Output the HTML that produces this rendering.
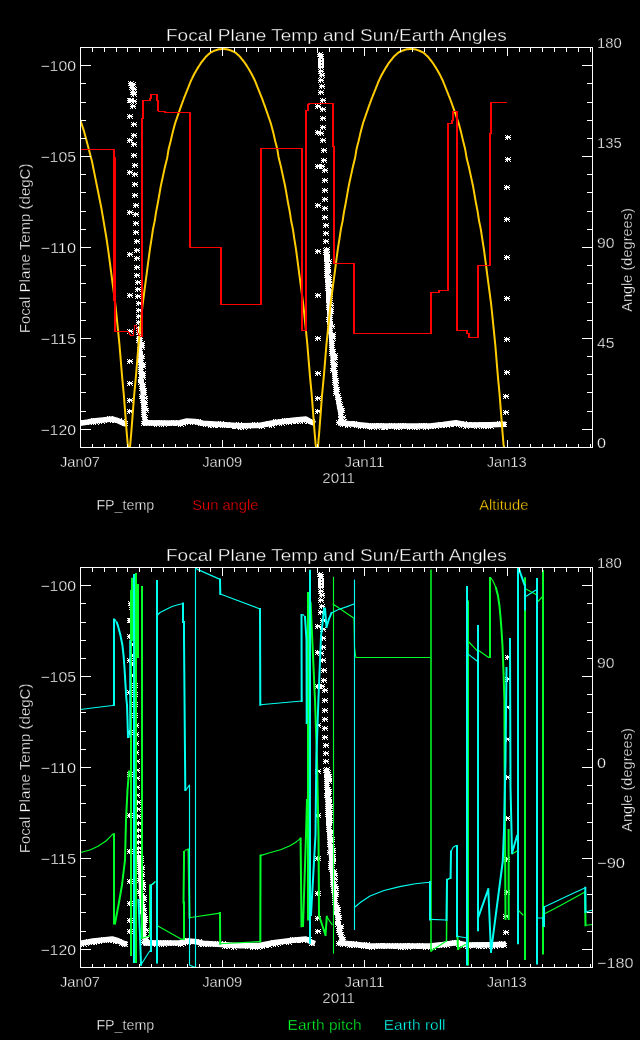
<!DOCTYPE html>
<html><head><meta charset="utf-8"><title>Focal Plane Temp and Sun/Earth Angles</title>
<style>html,body{margin:0;padding:0;background:#000;}svg{display:block;}</style></head>
<body><svg width="640" height="1040" viewBox="0 0 640 1040" font-family="'Liberation Sans', 'DejaVu Sans', sans-serif"><style>text{stroke:#000;stroke-width:0.35px}</style><defs><clipPath id="clipTop"><rect x="80" y="47" width="513" height="401"/></clipPath><clipPath id="clipBot"><rect x="80" y="567" width="513" height="401"/></clipPath></defs>
<text x="76.00" y="71.18" font-size="14.5" fill="#fff" text-anchor="end" textLength="35.6" lengthAdjust="spacingAndGlyphs" >−100</text>
<text x="76.00" y="162.09" font-size="14.5" fill="#fff" text-anchor="end" textLength="35.6" lengthAdjust="spacingAndGlyphs" >−105</text>
<text x="76.00" y="253.00" font-size="14.5" fill="#fff" text-anchor="end" textLength="35.6" lengthAdjust="spacingAndGlyphs" >−110</text>
<text x="76.00" y="343.91" font-size="14.5" fill="#fff" text-anchor="end" textLength="35.6" lengthAdjust="spacingAndGlyphs" >−115</text>
<text x="76.00" y="434.82" font-size="14.5" fill="#fff" text-anchor="end" textLength="35.6" lengthAdjust="spacingAndGlyphs" >−120</text>
<text x="80.00" y="467.00" font-size="14.5" fill="#fff" text-anchor="middle" textLength="40.0" lengthAdjust="spacingAndGlyphs" >Jan07</text>
<text x="222.22" y="467.00" font-size="14.5" fill="#fff" text-anchor="middle" textLength="40.0" lengthAdjust="spacingAndGlyphs" >Jan09</text>
<text x="364.44" y="467.00" font-size="14.5" fill="#fff" text-anchor="middle" textLength="40.0" lengthAdjust="spacingAndGlyphs" >Jan11</text>
<text x="506.67" y="467.00" font-size="14.5" fill="#fff" text-anchor="middle" textLength="40.0" lengthAdjust="spacingAndGlyphs" >Jan13</text>
<text x="338.60" y="483.00" font-size="14.5" fill="#fff" text-anchor="middle" textLength="32.6" lengthAdjust="spacingAndGlyphs" >2011</text>
<text x="597.00" y="48.00" font-size="14.5" fill="#fff" text-anchor="start" textLength="24.7" lengthAdjust="spacingAndGlyphs" >180</text>
<text x="597.00" y="148.00" font-size="14.5" fill="#fff" text-anchor="start" textLength="24.7" lengthAdjust="spacingAndGlyphs" >135</text>
<text x="597.00" y="248.00" font-size="14.5" fill="#fff" text-anchor="start" textLength="17.5" lengthAdjust="spacingAndGlyphs" >90</text>
<text x="597.00" y="348.00" font-size="14.5" fill="#fff" text-anchor="start" textLength="17.5" lengthAdjust="spacingAndGlyphs" >45</text>
<text x="597.00" y="448.00" font-size="14.5" fill="#fff" text-anchor="start" textLength="9.0" lengthAdjust="spacingAndGlyphs" >0</text>
<text x="166.00" y="41.00" font-size="17" fill="#fff" text-anchor="start" textLength="340.8" lengthAdjust="spacingAndGlyphs" >Focal Plane Temp and Sun/Earth Angles</text>
<text transform="translate(29.6,333.2) rotate(-90)" font-size="14.5" fill="#fff" textLength="169.6" lengthAdjust="spacingAndGlyphs">Focal Plane Temp (degC)</text>
<text transform="translate(632,311.8) rotate(-90)" font-size="14.5" fill="#fff" textLength="103.6" lengthAdjust="spacingAndGlyphs">Angle (degrees)</text>
<g clip-path="url(#clipTop)">
<path d="M80.0 423.2L88.0 422.0L93.0 421.0L103.0 420.0L112.0 419.0L118.0 420.7L124.0 423.5L127.0 424.0M143.0 423.0L146.0 422.7L163.0 423.0L180.0 422.7L187.0 421.0L195.0 421.5L203.0 423.3L240.0 425.8L259.0 425.5L275.0 422.5L295.0 420.0L306.0 419.0L311.0 422.0L315.0 423.5M338.0 423.0L342.0 423.0L369.0 425.7L400.0 426.0L430.0 426.0L443.0 424.5L456.0 422.7L467.0 424.9L490.0 424.7L506.0 424.3" stroke="#fff" stroke-width="5.5" fill="none" stroke-linejoin="round"/>
<path d="M138.6 336.0L139.8 345.0L140.5 360.0L141.0 375.0L142.0 388.0L143.0 400.0L143.8 412.0L144.3 419.0L146.5 423.0M326.4 250.0L327.0 269.0L328.0 292.0L329.2 315.0L331.0 338.5L332.7 361.5L335.5 384.6L339.0 407.7L341.4 419.0L344.0 423.0" stroke="#fff" stroke-width="4" fill="none" stroke-linejoin="round"/>
<path d="M127 98.5h1m4 0h1m-5 1h4m-5 1h6m-5 1h2m1 0h1m-5 1h1m4 0h1M129.5 98v5M127 114.5h1m4 0h1m-5 1h4m-5 1h6m-5 1h2m1 0h1m-5 1h1m4 0h1M129.5 114v5M127 138.5h1m4 0h1m-5 1h4m-5 1h6m-5 1h2m1 0h1m-5 1h1m4 0h1M129.5 138v5M127 170.5h1m4 0h1m-5 1h4m-5 1h6m-5 1h2m1 0h1m-5 1h1m4 0h1M129.5 170v5M127 210.5h1m4 0h1m-5 1h4m-5 1h6m-5 1h2m1 0h1m-5 1h1m4 0h1M129.5 210v5M127 252.5h1m4 0h1m-5 1h4m-5 1h6m-5 1h2m1 0h1m-5 1h1m4 0h1M129.5 252v5M127 293.5h1m4 0h1m-5 1h4m-5 1h6m-5 1h2m1 0h1m-5 1h1m4 0h1M129.5 293v5M127 329.5h1m4 0h1m-5 1h4m-5 1h6m-5 1h2m1 0h1m-5 1h1m4 0h1M129.5 329v5M127 359.5h1m4 0h1m-5 1h4m-5 1h6m-5 1h2m1 0h1m-5 1h1m4 0h1M129.5 359v5M127 381.5h1m4 0h1m-5 1h4m-5 1h6m-5 1h2m1 0h1m-5 1h1m4 0h1M129.5 381v5M127 398.5h1m4 0h1m-5 1h4m-5 1h6m-5 1h2m1 0h1m-5 1h1m4 0h1M129.5 398v5M127 409.5h1m4 0h1m-5 1h4m-5 1h6m-5 1h2m1 0h1m-5 1h1m4 0h1M129.5 409v5M315 104.5h1m4 0h1m-5 1h4m-5 1h6m-5 1h2m1 0h1m-5 1h1m4 0h1M317.5 104v5M315 130.5h1m4 0h1m-5 1h4m-5 1h6m-5 1h2m1 0h1m-5 1h1m4 0h1M317.5 130v5M315 164.5h1m4 0h1m-5 1h4m-5 1h6m-5 1h2m1 0h1m-5 1h1m4 0h1M317.5 164v5M315 203.5h1m4 0h1m-5 1h4m-5 1h6m-5 1h2m1 0h1m-5 1h1m4 0h1M317.5 203v5M315 249.5h1m4 0h1m-5 1h4m-5 1h6m-5 1h2m1 0h1m-5 1h1m4 0h1M317.5 249v5M315 293.5h1m4 0h1m-5 1h4m-5 1h6m-5 1h2m1 0h1m-5 1h1m4 0h1M317.5 293v5M315 336.5h1m4 0h1m-5 1h4m-5 1h6m-5 1h2m1 0h1m-5 1h1m4 0h1M317.5 336v5M315 371.5h1m4 0h1m-5 1h4m-5 1h6m-5 1h2m1 0h1m-5 1h1m4 0h1M317.5 371v5M315 396.5h1m4 0h1m-5 1h4m-5 1h6m-5 1h2m1 0h1m-5 1h1m4 0h1M317.5 396v5M315 409.5h1m4 0h1m-5 1h4m-5 1h6m-5 1h2m1 0h1m-5 1h1m4 0h1M317.5 409v5M505 135.5h1m4 0h1m-5 1h4m-5 1h6m-5 1h2m1 0h1m-5 1h1m4 0h1M507.5 135v5M505 157.5h1m4 0h1m-5 1h4m-5 1h6m-5 1h2m1 0h1m-5 1h1m4 0h1M507.5 157v5M504 185.5h1m4 0h1m-5 1h4m-5 1h6m-5 1h2m1 0h1m-5 1h1m4 0h1M506.5 185v5M504 217.5h1m4 0h1m-5 1h4m-5 1h6m-5 1h2m1 0h1m-5 1h1m4 0h1M506.5 217v5M504 255.5h1m4 0h1m-5 1h4m-5 1h6m-5 1h2m1 0h1m-5 1h1m4 0h1M506.5 255v5M504 296.5h1m4 0h1m-5 1h4m-5 1h6m-5 1h2m1 0h1m-5 1h1m4 0h1M506.5 296v5M504 337.5h1m4 0h1m-5 1h4m-5 1h6m-5 1h2m1 0h1m-5 1h1m4 0h1M506.5 337v5M504 370.5h1m4 0h1m-5 1h4m-5 1h6m-5 1h2m1 0h1m-5 1h1m4 0h1M506.5 370v5M503 394.5h1m4 0h1m-5 1h4m-5 1h6m-5 1h2m1 0h1m-5 1h1m4 0h1M505.5 394v5M503 410.5h1m4 0h1m-5 1h4m-5 1h6m-5 1h2m1 0h1m-5 1h1m4 0h1M505.5 410v5M128 81.5h1m4 0h1m-5 1h4m-5 1h6m-5 1h2m1 0h1m-5 1h1m4 0h1M130.5 81v5M130 82.5h1m4 0h1m-5 1h4m-5 1h6m-5 1h2m1 0h1m-5 1h1m4 0h1M132.5 82v5M129 85.5h1m4 0h1m-5 1h4m-5 1h6m-5 1h2m1 0h1m-5 1h1m4 0h1M131.5 85v5M131 87.5h1m4 0h1m-5 1h4m-5 1h6m-5 1h2m1 0h1m-5 1h1m4 0h1M133.5 87v5M130 90.5h1m4 0h1m-5 1h4m-5 1h6m-5 1h2m1 0h1m-5 1h1m4 0h1M132.5 90v5M131 92.5h1m4 0h1m-5 1h4m-5 1h6m-5 1h2m1 0h1m-5 1h1m4 0h1M133.5 92v5M128 98.5h1m4 0h1m-5 1h4m-5 1h6m-5 1h2m1 0h1m-5 1h1m4 0h1M130.5 98v5M131 99.5h1m4 0h1m-5 1h4m-5 1h6m-5 1h2m1 0h1m-5 1h1m4 0h1M133.5 99v5M130 104.5h1m4 0h1m-5 1h4m-5 1h6m-5 1h2m1 0h1m-5 1h1m4 0h1M132.5 104v5M131 122.5h1m4 0h1m-5 1h4m-5 1h6m-5 1h2m1 0h1m-5 1h1m4 0h1M133.5 122v5M131 133.5h1m4 0h1m-5 1h4m-5 1h6m-5 1h2m1 0h1m-5 1h1m4 0h1M133.5 133v5M131 142.5h1m4 0h1m-5 1h4m-5 1h6m-5 1h2m1 0h1m-5 1h1m4 0h1M133.5 142v5M131 153.5h1m4 0h1m-5 1h4m-5 1h6m-5 1h2m1 0h1m-5 1h1m4 0h1M133.5 153v5M132 163.5h1m4 0h1m-5 1h4m-5 1h6m-5 1h2m1 0h1m-5 1h1m4 0h1M134.5 163v5M317 52.5h1m4 0h1m-5 1h4m-5 1h6m-5 1h2m1 0h1m-5 1h1m4 0h1M319.5 52v5M318 54.5h1m4 0h1m-5 1h4m-5 1h6m-5 1h2m1 0h1m-5 1h1m4 0h1M320.5 54v5M318 56.5h1m4 0h1m-5 1h4m-5 1h6m-5 1h2m1 0h1m-5 1h1m4 0h1M320.5 56v5M318 59.5h1m4 0h1m-5 1h4m-5 1h6m-5 1h2m1 0h1m-5 1h1m4 0h1M320.5 59v5M318 62.5h1m4 0h1m-5 1h4m-5 1h6m-5 1h2m1 0h1m-5 1h1m4 0h1M320.5 62v5M318 65.5h1m4 0h1m-5 1h4m-5 1h6m-5 1h2m1 0h1m-5 1h1m4 0h1M320.5 65v5M318 69.5h1m4 0h1m-5 1h4m-5 1h6m-5 1h2m1 0h1m-5 1h1m4 0h1M320.5 69v5M319 73.5h1m4 0h1m-5 1h4m-5 1h6m-5 1h2m1 0h1m-5 1h1m4 0h1M321.5 73v5M318 78.5h1m4 0h1m-5 1h4m-5 1h6m-5 1h2m1 0h1m-5 1h1m4 0h1M320.5 78v5M319 84.5h1m4 0h1m-5 1h4m-5 1h6m-5 1h2m1 0h1m-5 1h1m4 0h1M321.5 84v5M318 90.5h1m4 0h1m-5 1h4m-5 1h6m-5 1h2m1 0h1m-5 1h1m4 0h1M320.5 90v5M320 98.5h1m4 0h1m-5 1h4m-5 1h6m-5 1h2m1 0h1m-5 1h1m4 0h1M322.5 98v5M320 107.5h1m4 0h1m-5 1h4m-5 1h6m-5 1h2m1 0h1m-5 1h1m4 0h1M322.5 107v5M320 116.5h1m4 0h1m-5 1h4m-5 1h6m-5 1h2m1 0h1m-5 1h1m4 0h1M322.5 116v5M320 125.5h1m4 0h1m-5 1h4m-5 1h6m-5 1h2m1 0h1m-5 1h1m4 0h1M322.5 125v5M318 131.5h1m4 0h1m-5 1h4m-5 1h6m-5 1h2m1 0h1m-5 1h1m4 0h1M320.5 131v5M320 138.5h1m4 0h1m-5 1h4m-5 1h6m-5 1h2m1 0h1m-5 1h1m4 0h1M322.5 138v5M321 148.5h1m4 0h1m-5 1h4m-5 1h6m-5 1h2m1 0h1m-5 1h1m4 0h1M323.5 148v5M321 158.5h1m4 0h1m-5 1h4m-5 1h6m-5 1h2m1 0h1m-5 1h1m4 0h1M323.5 158v5M319 164.5h1m4 0h1m-5 1h4m-5 1h6m-5 1h2m1 0h1m-5 1h1m4 0h1M321.5 164v5M322 168.5h1m4 0h1m-5 1h4m-5 1h6m-5 1h2m1 0h1m-5 1h1m4 0h1M324.5 168v5M322 178.5h1m4 0h1m-5 1h4m-5 1h6m-5 1h2m1 0h1m-5 1h1m4 0h1M324.5 178v5M132 172.5h1m4 0h1m-5 1h4m-5 1h6m-5 1h2m1 0h1m-5 1h1m4 0h1M134.5 172v5M132 182.5h1m4 0h1m-5 1h4m-5 1h6m-5 1h2m1 0h1m-5 1h1m4 0h1M134.5 182v5M132 193.5h1m4 0h1m-5 1h4m-5 1h6m-5 1h2m1 0h1m-5 1h1m4 0h1M134.5 193v5M133 203.5h1m4 0h1m-5 1h4m-5 1h6m-5 1h2m1 0h1m-5 1h1m4 0h1M135.5 203v5M133 212.5h1m4 0h1m-5 1h4m-5 1h6m-5 1h2m1 0h1m-5 1h1m4 0h1M135.5 212v5M133 221.5h1m4 0h1m-5 1h4m-5 1h6m-5 1h2m1 0h1m-5 1h1m4 0h1M135.5 221v5M133 230.5h1m4 0h1m-5 1h4m-5 1h6m-5 1h2m1 0h1m-5 1h1m4 0h1M135.5 230v5M134 239.5h1m4 0h1m-5 1h4m-5 1h6m-5 1h2m1 0h1m-5 1h1m4 0h1M136.5 239v5M134 248.5h1m4 0h1m-5 1h4m-5 1h6m-5 1h2m1 0h1m-5 1h1m4 0h1M136.5 248v5M134 256.5h1m4 0h1m-5 1h4m-5 1h6m-5 1h2m1 0h1m-5 1h1m4 0h1M136.5 256v5M134 265.5h1m4 0h1m-5 1h4m-5 1h6m-5 1h2m1 0h1m-5 1h1m4 0h1M136.5 265v5M134 273.5h1m4 0h1m-5 1h4m-5 1h6m-5 1h2m1 0h1m-5 1h1m4 0h1M136.5 273v5M135 280.5h1m4 0h1m-5 1h4m-5 1h6m-5 1h2m1 0h1m-5 1h1m4 0h1M137.5 280v5M135 287.5h1m4 0h1m-5 1h4m-5 1h6m-5 1h2m1 0h1m-5 1h1m4 0h1M137.5 287v5M135 294.5h1m4 0h1m-5 1h4m-5 1h6m-5 1h2m1 0h1m-5 1h1m4 0h1M137.5 294v5M136 301.5h1m4 0h1m-5 1h4m-5 1h6m-5 1h2m1 0h1m-5 1h1m4 0h1M138.5 301v5M136 308.5h1m4 0h1m-5 1h4m-5 1h6m-5 1h2m1 0h1m-5 1h1m4 0h1M138.5 308v5M136 314.5h1m4 0h1m-5 1h4m-5 1h6m-5 1h2m1 0h1m-5 1h1m4 0h1M138.5 314v5M136 320.5h1m4 0h1m-5 1h4m-5 1h6m-5 1h2m1 0h1m-5 1h1m4 0h1M138.5 320v5M136 326.5h1m4 0h1m-5 1h4m-5 1h6m-5 1h2m1 0h1m-5 1h1m4 0h1M138.5 326v5M136 330.5h1m4 0h1m-5 1h4m-5 1h6m-5 1h2m1 0h1m-5 1h1m4 0h1M138.5 330v5M322 188.5h1m4 0h1m-5 1h4m-5 1h6m-5 1h2m1 0h1m-5 1h1m4 0h1M324.5 188v5M322 197.5h1m4 0h1m-5 1h4m-5 1h6m-5 1h2m1 0h1m-5 1h1m4 0h1M324.5 197v5M322 206.5h1m4 0h1m-5 1h4m-5 1h6m-5 1h2m1 0h1m-5 1h1m4 0h1M324.5 206v5M322 215.5h1m4 0h1m-5 1h4m-5 1h6m-5 1h2m1 0h1m-5 1h1m4 0h1M324.5 215v5M323 223.5h1m4 0h1m-5 1h4m-5 1h6m-5 1h2m1 0h1m-5 1h1m4 0h1M325.5 223v5M323 231.5h1m4 0h1m-5 1h4m-5 1h6m-5 1h2m1 0h1m-5 1h1m4 0h1M325.5 231v5M323 239.5h1m4 0h1m-5 1h4m-5 1h6m-5 1h2m1 0h1m-5 1h1m4 0h1M325.5 239v5M324 247.5h1m4 0h1m-5 1h4m-5 1h6m-5 1h2m1 0h1m-5 1h1m4 0h1M326.5 247v5M324 255.5h1m4 0h1m-5 1h4m-5 1h6m-5 1h2m1 0h1m-5 1h1m4 0h1M326.5 255v5M324 263.5h1m4 0h1m-5 1h4m-5 1h6m-5 1h2m1 0h1m-5 1h1m4 0h1M326.5 263v5M325 270.5h1m4 0h1m-5 1h4m-5 1h6m-5 1h2m1 0h1m-5 1h1m4 0h1M327.5 270v5M325 277.5h1m4 0h1m-5 1h4m-5 1h6m-5 1h2m1 0h1m-5 1h1m4 0h1M327.5 277v5M325 284.5h1m4 0h1m-5 1h4m-5 1h6m-5 1h2m1 0h1m-5 1h1m4 0h1M327.5 284v5M326 291.5h1m4 0h1m-5 1h4m-5 1h6m-5 1h2m1 0h1m-5 1h1m4 0h1M328.5 291v5M326 297.5h1m4 0h1m-5 1h4m-5 1h6m-5 1h2m1 0h1m-5 1h1m4 0h1M328.5 297v5M78 420.5h1m4 0h1m-5 1h4m-5 1h6m-5 1h2m1 0h1m-5 1h1m4 0h1M80.5 420v5M81 420.5h1m4 0h1m-5 1h4m-5 1h6m-5 1h2m1 0h1m-5 1h1m4 0h1M83.5 420v5M83 420.5h1m4 0h1m-5 1h4m-5 1h6m-5 1h2m1 0h1m-5 1h1m4 0h1M85.5 420v5M86 420.5h1m4 0h1m-5 1h4m-5 1h6m-5 1h2m1 0h1m-5 1h1m4 0h1M88.5 420v5M88 419.5h1m4 0h1m-5 1h4m-5 1h6m-5 1h2m1 0h1m-5 1h1m4 0h1M90.5 419v5M91 418.5h1m4 0h1m-5 1h4m-5 1h6m-5 1h2m1 0h1m-5 1h1m4 0h1M93.5 418v5M93 420.5h1m4 0h1m-5 1h4m-5 1h6m-5 1h2m1 0h1m-5 1h1m4 0h1M95.5 420v5M96 418.5h1m4 0h1m-5 1h4m-5 1h6m-5 1h2m1 0h1m-5 1h1m4 0h1M98.5 418v5M99 419.5h1m4 0h1m-5 1h4m-5 1h6m-5 1h2m1 0h1m-5 1h1m4 0h1M101.5 419v5M101 418.5h1m4 0h1m-5 1h4m-5 1h6m-5 1h2m1 0h1m-5 1h1m4 0h1M103.5 418v5M104 417.5h1m4 0h1m-5 1h4m-5 1h6m-5 1h2m1 0h1m-5 1h1m4 0h1M106.5 417v5M106 417.5h1m4 0h1m-5 1h4m-5 1h6m-5 1h2m1 0h1m-5 1h1m4 0h1M108.5 417v5M107 416.5h1m4 0h1m-5 1h4m-5 1h6m-5 1h2m1 0h1m-5 1h1m4 0h1M109.5 416v5M110 418.5h1m4 0h1m-5 1h4m-5 1h6m-5 1h2m1 0h1m-5 1h1m4 0h1M112.5 418v5M113 418.5h1m4 0h1m-5 1h4m-5 1h6m-5 1h2m1 0h1m-5 1h1m4 0h1M115.5 418v5M116 418.5h1m4 0h1m-5 1h4m-5 1h6m-5 1h2m1 0h1m-5 1h1m4 0h1M118.5 418v5M119 419.5h1m4 0h1m-5 1h4m-5 1h6m-5 1h2m1 0h1m-5 1h1m4 0h1M121.5 419v5M122 421.5h1m4 0h1m-5 1h4m-5 1h6m-5 1h2m1 0h1m-5 1h1m4 0h1M124.5 421v5M141 421.5h1m4 0h1m-5 1h4m-5 1h6m-5 1h2m1 0h1m-5 1h1m4 0h1M143.5 421v5M144 421.5h1m4 0h1m-5 1h4m-5 1h6m-5 1h2m1 0h1m-5 1h1m4 0h1M146.5 421v5M146 420.5h1m4 0h1m-5 1h4m-5 1h6m-5 1h2m1 0h1m-5 1h1m4 0h1M148.5 420v5M149 421.5h1m4 0h1m-5 1h4m-5 1h6m-5 1h2m1 0h1m-5 1h1m4 0h1M151.5 421v5M151 421.5h1m4 0h1m-5 1h4m-5 1h6m-5 1h2m1 0h1m-5 1h1m4 0h1M153.5 421v5M154 422.5h1m4 0h1m-5 1h4m-5 1h6m-5 1h2m1 0h1m-5 1h1m4 0h1M156.5 422v5M156 420.5h1m4 0h1m-5 1h4m-5 1h6m-5 1h2m1 0h1m-5 1h1m4 0h1M158.5 420v5M159 420.5h1m4 0h1m-5 1h4m-5 1h6m-5 1h2m1 0h1m-5 1h1m4 0h1M161.5 420v5M161 422.5h1m4 0h1m-5 1h4m-5 1h6m-5 1h2m1 0h1m-5 1h1m4 0h1M163.5 422v5M163 421.5h1m4 0h1m-5 1h4m-5 1h6m-5 1h2m1 0h1m-5 1h1m4 0h1M165.5 421v5M165 421.5h1m4 0h1m-5 1h4m-5 1h6m-5 1h2m1 0h1m-5 1h1m4 0h1M167.5 421v5M169 421.5h1m4 0h1m-5 1h4m-5 1h6m-5 1h2m1 0h1m-5 1h1m4 0h1M171.5 421v5M171 420.5h1m4 0h1m-5 1h4m-5 1h6m-5 1h2m1 0h1m-5 1h1m4 0h1M173.5 420v5M173 421.5h1m4 0h1m-5 1h4m-5 1h6m-5 1h2m1 0h1m-5 1h1m4 0h1M175.5 421v5M176 421.5h1m4 0h1m-5 1h4m-5 1h6m-5 1h2m1 0h1m-5 1h1m4 0h1M178.5 421v5M178 422.5h1m4 0h1m-5 1h4m-5 1h6m-5 1h2m1 0h1m-5 1h1m4 0h1M180.5 422v5M180 421.5h1m4 0h1m-5 1h4m-5 1h6m-5 1h2m1 0h1m-5 1h1m4 0h1M182.5 421v5M182 420.5h1m4 0h1m-5 1h4m-5 1h6m-5 1h2m1 0h1m-5 1h1m4 0h1M184.5 420v5M185 420.5h1m4 0h1m-5 1h4m-5 1h6m-5 1h2m1 0h1m-5 1h1m4 0h1M187.5 420v5M188 419.5h1m4 0h1m-5 1h4m-5 1h6m-5 1h2m1 0h1m-5 1h1m4 0h1M190.5 419v5M190 420.5h1m4 0h1m-5 1h4m-5 1h6m-5 1h2m1 0h1m-5 1h1m4 0h1M192.5 420v5M193 419.5h1m4 0h1m-5 1h4m-5 1h6m-5 1h2m1 0h1m-5 1h1m4 0h1M195.5 419v5M195 419.5h1m4 0h1m-5 1h4m-5 1h6m-5 1h2m1 0h1m-5 1h1m4 0h1M197.5 419v5M198 421.5h1m4 0h1m-5 1h4m-5 1h6m-5 1h2m1 0h1m-5 1h1m4 0h1M200.5 421v5M201 421.5h1m4 0h1m-5 1h4m-5 1h6m-5 1h2m1 0h1m-5 1h1m4 0h1M203.5 421v5M203 422.5h1m4 0h1m-5 1h4m-5 1h6m-5 1h2m1 0h1m-5 1h1m4 0h1M205.5 422v5M205 421.5h1m4 0h1m-5 1h4m-5 1h6m-5 1h2m1 0h1m-5 1h1m4 0h1M207.5 421v5M208 423.5h1m4 0h1m-5 1h4m-5 1h6m-5 1h2m1 0h1m-5 1h1m4 0h1M210.5 423v5M211 423.5h1m4 0h1m-5 1h4m-5 1h6m-5 1h2m1 0h1m-5 1h1m4 0h1M213.5 423v5M212 422.5h1m4 0h1m-5 1h4m-5 1h6m-5 1h2m1 0h1m-5 1h1m4 0h1M214.5 422v5M215 423.5h1m4 0h1m-5 1h4m-5 1h6m-5 1h2m1 0h1m-5 1h1m4 0h1M217.5 423v5M218 421.5h1m4 0h1m-5 1h4m-5 1h6m-5 1h2m1 0h1m-5 1h1m4 0h1M220.5 421v5M219 422.5h1m4 0h1m-5 1h4m-5 1h6m-5 1h2m1 0h1m-5 1h1m4 0h1M221.5 422v5M222 423.5h1m4 0h1m-5 1h4m-5 1h6m-5 1h2m1 0h1m-5 1h1m4 0h1M224.5 423v5M224 422.5h1m4 0h1m-5 1h4m-5 1h6m-5 1h2m1 0h1m-5 1h1m4 0h1M226.5 422v5M226 423.5h1m4 0h1m-5 1h4m-5 1h6m-5 1h2m1 0h1m-5 1h1m4 0h1M228.5 423v5M229 423.5h1m4 0h1m-5 1h4m-5 1h6m-5 1h2m1 0h1m-5 1h1m4 0h1M231.5 423v5M232 424.5h1m4 0h1m-5 1h4m-5 1h6m-5 1h2m1 0h1m-5 1h1m4 0h1M234.5 424v5M233 424.5h1m4 0h1m-5 1h4m-5 1h6m-5 1h2m1 0h1m-5 1h1m4 0h1M235.5 424v5M236 422.5h1m4 0h1m-5 1h4m-5 1h6m-5 1h2m1 0h1m-5 1h1m4 0h1M238.5 422v5M238 425.5h1m4 0h1m-5 1h4m-5 1h6m-5 1h2m1 0h1m-5 1h1m4 0h1M240.5 425v5M241 425.5h1m4 0h1m-5 1h4m-5 1h6m-5 1h2m1 0h1m-5 1h1m4 0h1M243.5 425v5M243 423.5h1m4 0h1m-5 1h4m-5 1h6m-5 1h2m1 0h1m-5 1h1m4 0h1M245.5 423v5M245 424.5h1m4 0h1m-5 1h4m-5 1h6m-5 1h2m1 0h1m-5 1h1m4 0h1M247.5 424v5M247 423.5h1m4 0h1m-5 1h4m-5 1h6m-5 1h2m1 0h1m-5 1h1m4 0h1M249.5 423v5M250 423.5h1m4 0h1m-5 1h4m-5 1h6m-5 1h2m1 0h1m-5 1h1m4 0h1M252.5 423v5M252 422.5h1m4 0h1m-5 1h4m-5 1h6m-5 1h2m1 0h1m-5 1h1m4 0h1M254.5 422v5M254 423.5h1m4 0h1m-5 1h4m-5 1h6m-5 1h2m1 0h1m-5 1h1m4 0h1M256.5 423v5M257 423.5h1m4 0h1m-5 1h4m-5 1h6m-5 1h2m1 0h1m-5 1h1m4 0h1M259.5 423v5M259 424.5h1m4 0h1m-5 1h4m-5 1h6m-5 1h2m1 0h1m-5 1h1m4 0h1M261.5 424v5M262 422.5h1m4 0h1m-5 1h4m-5 1h6m-5 1h2m1 0h1m-5 1h1m4 0h1M264.5 422v5M264 422.5h1m4 0h1m-5 1h4m-5 1h6m-5 1h2m1 0h1m-5 1h1m4 0h1M266.5 422v5M266 421.5h1m4 0h1m-5 1h4m-5 1h6m-5 1h2m1 0h1m-5 1h1m4 0h1M268.5 421v5M269 423.5h1m4 0h1m-5 1h4m-5 1h6m-5 1h2m1 0h1m-5 1h1m4 0h1M271.5 423v5M271 421.5h1m4 0h1m-5 1h4m-5 1h6m-5 1h2m1 0h1m-5 1h1m4 0h1M273.5 421v5M273 419.5h1m4 0h1m-5 1h4m-5 1h6m-5 1h2m1 0h1m-5 1h1m4 0h1M275.5 419v5M275 420.5h1m4 0h1m-5 1h4m-5 1h6m-5 1h2m1 0h1m-5 1h1m4 0h1M277.5 420v5M278 419.5h1m4 0h1m-5 1h4m-5 1h6m-5 1h2m1 0h1m-5 1h1m4 0h1M280.5 419v5M279 421.5h1m4 0h1m-5 1h4m-5 1h6m-5 1h2m1 0h1m-5 1h1m4 0h1M281.5 421v5M282 418.5h1m4 0h1m-5 1h4m-5 1h6m-5 1h2m1 0h1m-5 1h1m4 0h1M284.5 418v5M284 418.5h1m4 0h1m-5 1h4m-5 1h6m-5 1h2m1 0h1m-5 1h1m4 0h1M286.5 418v5M286 420.5h1m4 0h1m-5 1h4m-5 1h6m-5 1h2m1 0h1m-5 1h1m4 0h1M288.5 420v5M289 419.5h1m4 0h1m-5 1h4m-5 1h6m-5 1h2m1 0h1m-5 1h1m4 0h1M291.5 419v5M291 418.5h1m4 0h1m-5 1h4m-5 1h6m-5 1h2m1 0h1m-5 1h1m4 0h1M293.5 418v5M293 419.5h1m4 0h1m-5 1h4m-5 1h6m-5 1h2m1 0h1m-5 1h1m4 0h1M295.5 419v5M295 419.5h1m4 0h1m-5 1h4m-5 1h6m-5 1h2m1 0h1m-5 1h1m4 0h1M297.5 419v5M297 417.5h1m4 0h1m-5 1h4m-5 1h6m-5 1h2m1 0h1m-5 1h1m4 0h1M299.5 417v5M300 419.5h1m4 0h1m-5 1h4m-5 1h6m-5 1h2m1 0h1m-5 1h1m4 0h1M302.5 419v5M302 418.5h1m4 0h1m-5 1h4m-5 1h6m-5 1h2m1 0h1m-5 1h1m4 0h1M304.5 418v5M304 418.5h1m4 0h1m-5 1h4m-5 1h6m-5 1h2m1 0h1m-5 1h1m4 0h1M306.5 418v5M306 419.5h1m4 0h1m-5 1h4m-5 1h6m-5 1h2m1 0h1m-5 1h1m4 0h1M308.5 419v5M309 419.5h1m4 0h1m-5 1h4m-5 1h6m-5 1h2m1 0h1m-5 1h1m4 0h1M311.5 419v5M336 420.5h1m4 0h1m-5 1h4m-5 1h6m-5 1h2m1 0h1m-5 1h1m4 0h1M338.5 420v5M340 422.5h1m4 0h1m-5 1h4m-5 1h6m-5 1h2m1 0h1m-5 1h1m4 0h1M342.5 422v5M343 421.5h1m4 0h1m-5 1h4m-5 1h6m-5 1h2m1 0h1m-5 1h1m4 0h1M345.5 421v5M345 423.5h1m4 0h1m-5 1h4m-5 1h6m-5 1h2m1 0h1m-5 1h1m4 0h1M347.5 423v5M347 421.5h1m4 0h1m-5 1h4m-5 1h6m-5 1h2m1 0h1m-5 1h1m4 0h1M349.5 421v5M349 421.5h1m4 0h1m-5 1h4m-5 1h6m-5 1h2m1 0h1m-5 1h1m4 0h1M351.5 421v5M351 421.5h1m4 0h1m-5 1h4m-5 1h6m-5 1h2m1 0h1m-5 1h1m4 0h1M353.5 421v5M354 423.5h1m4 0h1m-5 1h4m-5 1h6m-5 1h2m1 0h1m-5 1h1m4 0h1M356.5 423v5M356 423.5h1m4 0h1m-5 1h4m-5 1h6m-5 1h2m1 0h1m-5 1h1m4 0h1M358.5 423v5M358 424.5h1m4 0h1m-5 1h4m-5 1h6m-5 1h2m1 0h1m-5 1h1m4 0h1M360.5 424v5M360 423.5h1m4 0h1m-5 1h4m-5 1h6m-5 1h2m1 0h1m-5 1h1m4 0h1M362.5 423v5M363 424.5h1m4 0h1m-5 1h4m-5 1h6m-5 1h2m1 0h1m-5 1h1m4 0h1M365.5 424v5M365 423.5h1m4 0h1m-5 1h4m-5 1h6m-5 1h2m1 0h1m-5 1h1m4 0h1M367.5 423v5M367 424.5h1m4 0h1m-5 1h4m-5 1h6m-5 1h2m1 0h1m-5 1h1m4 0h1M369.5 424v5M369 425.5h1m4 0h1m-5 1h4m-5 1h6m-5 1h2m1 0h1m-5 1h1m4 0h1M371.5 425v5M372 423.5h1m4 0h1m-5 1h4m-5 1h6m-5 1h2m1 0h1m-5 1h1m4 0h1M374.5 423v5M374 425.5h1m4 0h1m-5 1h4m-5 1h6m-5 1h2m1 0h1m-5 1h1m4 0h1M376.5 425v5M376 423.5h1m4 0h1m-5 1h4m-5 1h6m-5 1h2m1 0h1m-5 1h1m4 0h1M378.5 423v5M378 423.5h1m4 0h1m-5 1h4m-5 1h6m-5 1h2m1 0h1m-5 1h1m4 0h1M380.5 423v5M381 425.5h1m4 0h1m-5 1h4m-5 1h6m-5 1h2m1 0h1m-5 1h1m4 0h1M383.5 425v5M382 425.5h1m4 0h1m-5 1h4m-5 1h6m-5 1h2m1 0h1m-5 1h1m4 0h1M384.5 425v5M385 424.5h1m4 0h1m-5 1h4m-5 1h6m-5 1h2m1 0h1m-5 1h1m4 0h1M387.5 424v5M387 424.5h1m4 0h1m-5 1h4m-5 1h6m-5 1h2m1 0h1m-5 1h1m4 0h1M389.5 424v5M389 423.5h1m4 0h1m-5 1h4m-5 1h6m-5 1h2m1 0h1m-5 1h1m4 0h1M391.5 423v5M392 424.5h1m4 0h1m-5 1h4m-5 1h6m-5 1h2m1 0h1m-5 1h1m4 0h1M394.5 424v5M394 425.5h1m4 0h1m-5 1h4m-5 1h6m-5 1h2m1 0h1m-5 1h1m4 0h1M396.5 425v5M396 425.5h1m4 0h1m-5 1h4m-5 1h6m-5 1h2m1 0h1m-5 1h1m4 0h1M398.5 425v5M398 423.5h1m4 0h1m-5 1h4m-5 1h6m-5 1h2m1 0h1m-5 1h1m4 0h1M400.5 423v5M400 423.5h1m4 0h1m-5 1h4m-5 1h6m-5 1h2m1 0h1m-5 1h1m4 0h1M402.5 423v5M402 424.5h1m4 0h1m-5 1h4m-5 1h6m-5 1h2m1 0h1m-5 1h1m4 0h1M404.5 424v5M405 424.5h1m4 0h1m-5 1h4m-5 1h6m-5 1h2m1 0h1m-5 1h1m4 0h1M407.5 424v5M407 425.5h1m4 0h1m-5 1h4m-5 1h6m-5 1h2m1 0h1m-5 1h1m4 0h1M409.5 425v5M409 424.5h1m4 0h1m-5 1h4m-5 1h6m-5 1h2m1 0h1m-5 1h1m4 0h1M411.5 424v5M412 425.5h1m4 0h1m-5 1h4m-5 1h6m-5 1h2m1 0h1m-5 1h1m4 0h1M414.5 425v5M414 425.5h1m4 0h1m-5 1h4m-5 1h6m-5 1h2m1 0h1m-5 1h1m4 0h1M416.5 425v5M416 424.5h1m4 0h1m-5 1h4m-5 1h6m-5 1h2m1 0h1m-5 1h1m4 0h1M418.5 424v5M419 423.5h1m4 0h1m-5 1h4m-5 1h6m-5 1h2m1 0h1m-5 1h1m4 0h1M421.5 423v5M421 423.5h1m4 0h1m-5 1h4m-5 1h6m-5 1h2m1 0h1m-5 1h1m4 0h1M423.5 423v5M423 425.5h1m4 0h1m-5 1h4m-5 1h6m-5 1h2m1 0h1m-5 1h1m4 0h1M425.5 425v5M425 424.5h1m4 0h1m-5 1h4m-5 1h6m-5 1h2m1 0h1m-5 1h1m4 0h1M427.5 424v5M428 424.5h1m4 0h1m-5 1h4m-5 1h6m-5 1h2m1 0h1m-5 1h1m4 0h1M430.5 424v5M430 424.5h1m4 0h1m-5 1h4m-5 1h6m-5 1h2m1 0h1m-5 1h1m4 0h1M432.5 424v5M433 424.5h1m4 0h1m-5 1h4m-5 1h6m-5 1h2m1 0h1m-5 1h1m4 0h1M435.5 424v5M435 423.5h1m4 0h1m-5 1h4m-5 1h6m-5 1h2m1 0h1m-5 1h1m4 0h1M437.5 423v5M438 422.5h1m4 0h1m-5 1h4m-5 1h6m-5 1h2m1 0h1m-5 1h1m4 0h1M440.5 422v5M441 423.5h1m4 0h1m-5 1h4m-5 1h6m-5 1h2m1 0h1m-5 1h1m4 0h1M443.5 423v5M444 423.5h1m4 0h1m-5 1h4m-5 1h6m-5 1h2m1 0h1m-5 1h1m4 0h1M446.5 423v5M447 422.5h1m4 0h1m-5 1h4m-5 1h6m-5 1h2m1 0h1m-5 1h1m4 0h1M449.5 422v5M449 421.5h1m4 0h1m-5 1h4m-5 1h6m-5 1h2m1 0h1m-5 1h1m4 0h1M451.5 421v5M451 422.5h1m4 0h1m-5 1h4m-5 1h6m-5 1h2m1 0h1m-5 1h1m4 0h1M453.5 422v5M454 421.5h1m4 0h1m-5 1h4m-5 1h6m-5 1h2m1 0h1m-5 1h1m4 0h1M456.5 421v5M456 422.5h1m4 0h1m-5 1h4m-5 1h6m-5 1h2m1 0h1m-5 1h1m4 0h1M458.5 422v5M459 423.5h1m4 0h1m-5 1h4m-5 1h6m-5 1h2m1 0h1m-5 1h1m4 0h1M461.5 423v5M461 421.5h1m4 0h1m-5 1h4m-5 1h6m-5 1h2m1 0h1m-5 1h1m4 0h1M463.5 421v5M463 424.5h1m4 0h1m-5 1h4m-5 1h6m-5 1h2m1 0h1m-5 1h1m4 0h1M465.5 424v5M465 422.5h1m4 0h1m-5 1h4m-5 1h6m-5 1h2m1 0h1m-5 1h1m4 0h1M467.5 422v5M467 423.5h1m4 0h1m-5 1h4m-5 1h6m-5 1h2m1 0h1m-5 1h1m4 0h1M469.5 423v5M469 422.5h1m4 0h1m-5 1h4m-5 1h6m-5 1h2m1 0h1m-5 1h1m4 0h1M471.5 422v5M471 423.5h1m4 0h1m-5 1h4m-5 1h6m-5 1h2m1 0h1m-5 1h1m4 0h1M473.5 423v5M474 424.5h1m4 0h1m-5 1h4m-5 1h6m-5 1h2m1 0h1m-5 1h1m4 0h1M476.5 424v5M476 423.5h1m4 0h1m-5 1h4m-5 1h6m-5 1h2m1 0h1m-5 1h1m4 0h1M478.5 423v5M479 422.5h1m4 0h1m-5 1h4m-5 1h6m-5 1h2m1 0h1m-5 1h1m4 0h1M481.5 422v5M481 424.5h1m4 0h1m-5 1h4m-5 1h6m-5 1h2m1 0h1m-5 1h1m4 0h1M483.5 424v5M483 424.5h1m4 0h1m-5 1h4m-5 1h6m-5 1h2m1 0h1m-5 1h1m4 0h1M485.5 424v5M486 423.5h1m4 0h1m-5 1h4m-5 1h6m-5 1h2m1 0h1m-5 1h1m4 0h1M488.5 423v5M488 424.5h1m4 0h1m-5 1h4m-5 1h6m-5 1h2m1 0h1m-5 1h1m4 0h1M490.5 424v5M490 422.5h1m4 0h1m-5 1h4m-5 1h6m-5 1h2m1 0h1m-5 1h1m4 0h1M492.5 422v5M493 422.5h1m4 0h1m-5 1h4m-5 1h6m-5 1h2m1 0h1m-5 1h1m4 0h1M495.5 422v5M495 422.5h1m4 0h1m-5 1h4m-5 1h6m-5 1h2m1 0h1m-5 1h1m4 0h1M497.5 422v5M497 421.5h1m4 0h1m-5 1h4m-5 1h6m-5 1h2m1 0h1m-5 1h1m4 0h1M499.5 421v5M499 422.5h1m4 0h1m-5 1h4m-5 1h6m-5 1h2m1 0h1m-5 1h1m4 0h1M501.5 422v5M501 422.5h1m4 0h1m-5 1h4m-5 1h6m-5 1h2m1 0h1m-5 1h1m4 0h1M503.5 422v5M137 334.5h1m4 0h1m-5 1h4m-5 1h6m-5 1h2m1 0h1m-5 1h1m4 0h1M139.5 334v5M137 336.5h1m4 0h1m-5 1h4m-5 1h6m-5 1h2m1 0h1m-5 1h1m4 0h1M139.5 336v5M136 338.5h1m4 0h1m-5 1h4m-5 1h6m-5 1h2m1 0h1m-5 1h1m4 0h1M138.5 338v5M139 341.5h1m4 0h1m-5 1h4m-5 1h6m-5 1h2m1 0h1m-5 1h1m4 0h1M141.5 341v5M139 343.5h1m4 0h1m-5 1h4m-5 1h6m-5 1h2m1 0h1m-5 1h1m4 0h1M141.5 343v5M139 345.5h1m4 0h1m-5 1h4m-5 1h6m-5 1h2m1 0h1m-5 1h1m4 0h1M141.5 345v5M137 347.5h1m4 0h1m-5 1h4m-5 1h6m-5 1h2m1 0h1m-5 1h1m4 0h1M139.5 347v5M137 349.5h1m4 0h1m-5 1h4m-5 1h6m-5 1h2m1 0h1m-5 1h1m4 0h1M139.5 349v5M137 352.5h1m4 0h1m-5 1h4m-5 1h6m-5 1h2m1 0h1m-5 1h1m4 0h1M139.5 352v5M139 354.5h1m4 0h1m-5 1h4m-5 1h6m-5 1h2m1 0h1m-5 1h1m4 0h1M141.5 354v5M138 356.5h1m4 0h1m-5 1h4m-5 1h6m-5 1h2m1 0h1m-5 1h1m4 0h1M140.5 356v5M137 358.5h1m4 0h1m-5 1h4m-5 1h6m-5 1h2m1 0h1m-5 1h1m4 0h1M139.5 358v5M138 360.5h1m4 0h1m-5 1h4m-5 1h6m-5 1h2m1 0h1m-5 1h1m4 0h1M140.5 360v5M140 362.5h1m4 0h1m-5 1h4m-5 1h6m-5 1h2m1 0h1m-5 1h1m4 0h1M142.5 362v5M140 364.5h1m4 0h1m-5 1h4m-5 1h6m-5 1h2m1 0h1m-5 1h1m4 0h1M142.5 364v5M138 367.5h1m4 0h1m-5 1h4m-5 1h6m-5 1h2m1 0h1m-5 1h1m4 0h1M140.5 367v5M138 369.5h1m4 0h1m-5 1h4m-5 1h6m-5 1h2m1 0h1m-5 1h1m4 0h1M140.5 369v5M140 371.5h1m4 0h1m-5 1h4m-5 1h6m-5 1h2m1 0h1m-5 1h1m4 0h1M142.5 371v5M139 373.5h1m4 0h1m-5 1h4m-5 1h6m-5 1h2m1 0h1m-5 1h1m4 0h1M141.5 373v5M140 375.5h1m4 0h1m-5 1h4m-5 1h6m-5 1h2m1 0h1m-5 1h1m4 0h1M142.5 375v5M138 377.5h1m4 0h1m-5 1h4m-5 1h6m-5 1h2m1 0h1m-5 1h1m4 0h1M140.5 377v5M138 380.5h1m4 0h1m-5 1h4m-5 1h6m-5 1h2m1 0h1m-5 1h1m4 0h1M140.5 380v5M140 382.5h1m4 0h1m-5 1h4m-5 1h6m-5 1h2m1 0h1m-5 1h1m4 0h1M142.5 382v5M140 384.5h1m4 0h1m-5 1h4m-5 1h6m-5 1h2m1 0h1m-5 1h1m4 0h1M142.5 384v5M139 386.5h1m4 0h1m-5 1h4m-5 1h6m-5 1h2m1 0h1m-5 1h1m4 0h1M141.5 386v5M141 388.5h1m4 0h1m-5 1h4m-5 1h6m-5 1h2m1 0h1m-5 1h1m4 0h1M143.5 388v5M141 390.5h1m4 0h1m-5 1h4m-5 1h6m-5 1h2m1 0h1m-5 1h1m4 0h1M143.5 390v5M141 392.5h1m4 0h1m-5 1h4m-5 1h6m-5 1h2m1 0h1m-5 1h1m4 0h1M143.5 392v5M139 394.5h1m4 0h1m-5 1h4m-5 1h6m-5 1h2m1 0h1m-5 1h1m4 0h1M141.5 394v5M142 396.5h1m4 0h1m-5 1h4m-5 1h6m-5 1h2m1 0h1m-5 1h1m4 0h1M144.5 396v5M140 398.5h1m4 0h1m-5 1h4m-5 1h6m-5 1h2m1 0h1m-5 1h1m4 0h1M142.5 398v5M142 400.5h1m4 0h1m-5 1h4m-5 1h6m-5 1h2m1 0h1m-5 1h1m4 0h1M144.5 400v5M141 402.5h1m4 0h1m-5 1h4m-5 1h6m-5 1h2m1 0h1m-5 1h1m4 0h1M143.5 402v5M141 404.5h1m4 0h1m-5 1h4m-5 1h6m-5 1h2m1 0h1m-5 1h1m4 0h1M143.5 404v5M142 406.5h1m4 0h1m-5 1h4m-5 1h6m-5 1h2m1 0h1m-5 1h1m4 0h1M144.5 406v5M143 408.5h1m4 0h1m-5 1h4m-5 1h6m-5 1h2m1 0h1m-5 1h1m4 0h1M145.5 408v5M141 410.5h1m4 0h1m-5 1h4m-5 1h6m-5 1h2m1 0h1m-5 1h1m4 0h1M143.5 410v5M141 412.5h1m4 0h1m-5 1h4m-5 1h6m-5 1h2m1 0h1m-5 1h1m4 0h1M143.5 412v5M142 415.5h1m4 0h1m-5 1h4m-5 1h6m-5 1h2m1 0h1m-5 1h1m4 0h1M144.5 415v5M142 417.5h1m4 0h1m-5 1h4m-5 1h6m-5 1h2m1 0h1m-5 1h1m4 0h1M144.5 417v5M142 419.5h1m4 0h1m-5 1h4m-5 1h6m-5 1h2m1 0h1m-5 1h1m4 0h1M144.5 419v5M323 248.5h1m4 0h1m-5 1h4m-5 1h6m-5 1h2m1 0h1m-5 1h1m4 0h1M325.5 248v5M323 250.5h1m4 0h1m-5 1h4m-5 1h6m-5 1h2m1 0h1m-5 1h1m4 0h1M325.5 250v5M324 252.5h1m4 0h1m-5 1h4m-5 1h6m-5 1h2m1 0h1m-5 1h1m4 0h1M326.5 252v5M324 254.5h1m4 0h1m-5 1h4m-5 1h6m-5 1h2m1 0h1m-5 1h1m4 0h1M326.5 254v5M324 256.5h1m4 0h1m-5 1h4m-5 1h6m-5 1h2m1 0h1m-5 1h1m4 0h1M326.5 256v5M326 259.5h1m4 0h1m-5 1h4m-5 1h6m-5 1h2m1 0h1m-5 1h1m4 0h1M328.5 259v5M324 261.5h1m4 0h1m-5 1h4m-5 1h6m-5 1h2m1 0h1m-5 1h1m4 0h1M326.5 261v5M325 263.5h1m4 0h1m-5 1h4m-5 1h6m-5 1h2m1 0h1m-5 1h1m4 0h1M327.5 263v5M324 265.5h1m4 0h1m-5 1h4m-5 1h6m-5 1h2m1 0h1m-5 1h1m4 0h1M326.5 265v5M325 267.5h1m4 0h1m-5 1h4m-5 1h6m-5 1h2m1 0h1m-5 1h1m4 0h1M327.5 267v5M324 269.5h1m4 0h1m-5 1h4m-5 1h6m-5 1h2m1 0h1m-5 1h1m4 0h1M326.5 269v5M324 271.5h1m4 0h1m-5 1h4m-5 1h6m-5 1h2m1 0h1m-5 1h1m4 0h1M326.5 271v5M324 273.5h1m4 0h1m-5 1h4m-5 1h6m-5 1h2m1 0h1m-5 1h1m4 0h1M326.5 273v5M326 275.5h1m4 0h1m-5 1h4m-5 1h6m-5 1h2m1 0h1m-5 1h1m4 0h1M328.5 275v5M326 277.5h1m4 0h1m-5 1h4m-5 1h6m-5 1h2m1 0h1m-5 1h1m4 0h1M328.5 277v5M325 280.5h1m4 0h1m-5 1h4m-5 1h6m-5 1h2m1 0h1m-5 1h1m4 0h1M327.5 280v5M326 282.5h1m4 0h1m-5 1h4m-5 1h6m-5 1h2m1 0h1m-5 1h1m4 0h1M328.5 282v5M327 284.5h1m4 0h1m-5 1h4m-5 1h6m-5 1h2m1 0h1m-5 1h1m4 0h1M329.5 284v5M325 286.5h1m4 0h1m-5 1h4m-5 1h6m-5 1h2m1 0h1m-5 1h1m4 0h1M327.5 286v5M327 288.5h1m4 0h1m-5 1h4m-5 1h6m-5 1h2m1 0h1m-5 1h1m4 0h1M329.5 288v5M326 290.5h1m4 0h1m-5 1h4m-5 1h6m-5 1h2m1 0h1m-5 1h1m4 0h1M328.5 290v5M326 292.5h1m4 0h1m-5 1h4m-5 1h6m-5 1h2m1 0h1m-5 1h1m4 0h1M328.5 292v5M327 294.5h1m4 0h1m-5 1h4m-5 1h6m-5 1h2m1 0h1m-5 1h1m4 0h1M329.5 294v5M326 296.5h1m4 0h1m-5 1h4m-5 1h6m-5 1h2m1 0h1m-5 1h1m4 0h1M328.5 296v5M326 298.5h1m4 0h1m-5 1h4m-5 1h6m-5 1h2m1 0h1m-5 1h1m4 0h1M328.5 298v5M327 300.5h1m4 0h1m-5 1h4m-5 1h6m-5 1h2m1 0h1m-5 1h1m4 0h1M329.5 300v5M328 303.5h1m4 0h1m-5 1h4m-5 1h6m-5 1h2m1 0h1m-5 1h1m4 0h1M330.5 303v5M326 305.5h1m4 0h1m-5 1h4m-5 1h6m-5 1h2m1 0h1m-5 1h1m4 0h1M328.5 305v5M328 307.5h1m4 0h1m-5 1h4m-5 1h6m-5 1h2m1 0h1m-5 1h1m4 0h1M330.5 307v5M328 309.5h1m4 0h1m-5 1h4m-5 1h6m-5 1h2m1 0h1m-5 1h1m4 0h1M330.5 309v5M327 311.5h1m4 0h1m-5 1h4m-5 1h6m-5 1h2m1 0h1m-5 1h1m4 0h1M329.5 311v5M327 313.5h1m4 0h1m-5 1h4m-5 1h6m-5 1h2m1 0h1m-5 1h1m4 0h1M329.5 313v5M327 315.5h1m4 0h1m-5 1h4m-5 1h6m-5 1h2m1 0h1m-5 1h1m4 0h1M329.5 315v5M326 317.5h1m4 0h1m-5 1h4m-5 1h6m-5 1h2m1 0h1m-5 1h1m4 0h1M328.5 317v5M327 319.5h1m4 0h1m-5 1h4m-5 1h6m-5 1h2m1 0h1m-5 1h1m4 0h1M329.5 319v5M327 322.5h1m4 0h1m-5 1h4m-5 1h6m-5 1h2m1 0h1m-5 1h1m4 0h1M329.5 322v5M329 324.5h1m4 0h1m-5 1h4m-5 1h6m-5 1h2m1 0h1m-5 1h1m4 0h1M331.5 324v5M327 326.5h1m4 0h1m-5 1h4m-5 1h6m-5 1h2m1 0h1m-5 1h1m4 0h1M329.5 326v5M327 328.5h1m4 0h1m-5 1h4m-5 1h6m-5 1h2m1 0h1m-5 1h1m4 0h1M329.5 328v5M327 330.5h1m4 0h1m-5 1h4m-5 1h6m-5 1h2m1 0h1m-5 1h1m4 0h1M329.5 330v5M330 332.5h1m4 0h1m-5 1h4m-5 1h6m-5 1h2m1 0h1m-5 1h1m4 0h1M332.5 332v5M330 334.5h1m4 0h1m-5 1h4m-5 1h6m-5 1h2m1 0h1m-5 1h1m4 0h1M332.5 334v5M330 336.5h1m4 0h1m-5 1h4m-5 1h6m-5 1h2m1 0h1m-5 1h1m4 0h1M332.5 336v5M329 339.5h1m4 0h1m-5 1h4m-5 1h6m-5 1h2m1 0h1m-5 1h1m4 0h1M331.5 339v5M329 341.5h1m4 0h1m-5 1h4m-5 1h6m-5 1h2m1 0h1m-5 1h1m4 0h1M331.5 341v5M329 343.5h1m4 0h1m-5 1h4m-5 1h6m-5 1h2m1 0h1m-5 1h1m4 0h1M331.5 343v5M329 345.5h1m4 0h1m-5 1h4m-5 1h6m-5 1h2m1 0h1m-5 1h1m4 0h1M331.5 345v5M329 347.5h1m4 0h1m-5 1h4m-5 1h6m-5 1h2m1 0h1m-5 1h1m4 0h1M331.5 347v5M330 349.5h1m4 0h1m-5 1h4m-5 1h6m-5 1h2m1 0h1m-5 1h1m4 0h1M332.5 349v5M329 351.5h1m4 0h1m-5 1h4m-5 1h6m-5 1h2m1 0h1m-5 1h1m4 0h1M331.5 351v5M332 353.5h1m4 0h1m-5 1h4m-5 1h6m-5 1h2m1 0h1m-5 1h1m4 0h1M334.5 353v5M332 355.5h1m4 0h1m-5 1h4m-5 1h6m-5 1h2m1 0h1m-5 1h1m4 0h1M334.5 355v5M331 357.5h1m4 0h1m-5 1h4m-5 1h6m-5 1h2m1 0h1m-5 1h1m4 0h1M333.5 357v5M330 360.5h1m4 0h1m-5 1h4m-5 1h6m-5 1h2m1 0h1m-5 1h1m4 0h1M332.5 360v5M332 362.5h1m4 0h1m-5 1h4m-5 1h6m-5 1h2m1 0h1m-5 1h1m4 0h1M334.5 362v5M331 364.5h1m4 0h1m-5 1h4m-5 1h6m-5 1h2m1 0h1m-5 1h1m4 0h1M333.5 364v5M331 366.5h1m4 0h1m-5 1h4m-5 1h6m-5 1h2m1 0h1m-5 1h1m4 0h1M333.5 366v5M330 368.5h1m4 0h1m-5 1h4m-5 1h6m-5 1h2m1 0h1m-5 1h1m4 0h1M332.5 368v5M332 370.5h1m4 0h1m-5 1h4m-5 1h6m-5 1h2m1 0h1m-5 1h1m4 0h1M334.5 370v5M332 372.5h1m4 0h1m-5 1h4m-5 1h6m-5 1h2m1 0h1m-5 1h1m4 0h1M334.5 372v5M332 374.5h1m4 0h1m-5 1h4m-5 1h6m-5 1h2m1 0h1m-5 1h1m4 0h1M334.5 374v5M332 376.5h1m4 0h1m-5 1h4m-5 1h6m-5 1h2m1 0h1m-5 1h1m4 0h1M334.5 376v5M333 378.5h1m4 0h1m-5 1h4m-5 1h6m-5 1h2m1 0h1m-5 1h1m4 0h1M335.5 378v5M332 380.5h1m4 0h1m-5 1h4m-5 1h6m-5 1h2m1 0h1m-5 1h1m4 0h1M334.5 380v5M333 383.5h1m4 0h1m-5 1h4m-5 1h6m-5 1h2m1 0h1m-5 1h1m4 0h1M335.5 383v5M333 385.5h1m4 0h1m-5 1h4m-5 1h6m-5 1h2m1 0h1m-5 1h1m4 0h1M335.5 385v5M334 387.5h1m4 0h1m-5 1h4m-5 1h6m-5 1h2m1 0h1m-5 1h1m4 0h1M336.5 387v5M333 389.5h1m4 0h1m-5 1h4m-5 1h6m-5 1h2m1 0h1m-5 1h1m4 0h1M335.5 389v5M333 391.5h1m4 0h1m-5 1h4m-5 1h6m-5 1h2m1 0h1m-5 1h1m4 0h1M335.5 391v5M335 393.5h1m4 0h1m-5 1h4m-5 1h6m-5 1h2m1 0h1m-5 1h1m4 0h1M337.5 393v5M335 395.5h1m4 0h1m-5 1h4m-5 1h6m-5 1h2m1 0h1m-5 1h1m4 0h1M337.5 395v5M336 397.5h1m4 0h1m-5 1h4m-5 1h6m-5 1h2m1 0h1m-5 1h1m4 0h1M338.5 397v5M336 399.5h1m4 0h1m-5 1h4m-5 1h6m-5 1h2m1 0h1m-5 1h1m4 0h1M338.5 399v5M337 402.5h1m4 0h1m-5 1h4m-5 1h6m-5 1h2m1 0h1m-5 1h1m4 0h1M339.5 402v5M337 404.5h1m4 0h1m-5 1h4m-5 1h6m-5 1h2m1 0h1m-5 1h1m4 0h1M339.5 404v5M338 406.5h1m4 0h1m-5 1h4m-5 1h6m-5 1h2m1 0h1m-5 1h1m4 0h1M340.5 406v5M339 408.5h1m4 0h1m-5 1h4m-5 1h6m-5 1h2m1 0h1m-5 1h1m4 0h1M341.5 408v5M338 410.5h1m4 0h1m-5 1h4m-5 1h6m-5 1h2m1 0h1m-5 1h1m4 0h1M340.5 410v5M338 412.5h1m4 0h1m-5 1h4m-5 1h6m-5 1h2m1 0h1m-5 1h1m4 0h1M340.5 412v5M340 415.5h1m4 0h1m-5 1h4m-5 1h6m-5 1h2m1 0h1m-5 1h1m4 0h1M342.5 415v5M338 417.5h1m4 0h1m-5 1h4m-5 1h6m-5 1h2m1 0h1m-5 1h1m4 0h1M340.5 417v5M341 419.5h1m4 0h1m-5 1h4m-5 1h6m-5 1h2m1 0h1m-5 1h1m4 0h1M343.5 419v5" stroke="#fff" stroke-width="1" fill="none" shape-rendering="crispEdges"/>
<path d="M80.0 119.1L80.5 120.6L81.0 122.1L81.5 123.6L82.0 125.1L82.5 126.6L83.0 128.1L83.5 129.6L84.0 131.2L84.5 133.1L85.0 134.9L85.5 136.8L86.0 138.7L86.5 140.6L87.0 142.4L87.5 144.3L88.0 146.2L88.5 148.1L89.0 150.0L89.5 151.9L90.0 153.8L90.5 155.8L91.0 157.7L91.5 159.6L92.0 161.5L92.5 164.0L93.0 166.5L93.5 169.0L94.0 171.4L94.5 173.9L95.0 176.4L95.5 178.9L96.0 181.4L96.5 183.9L97.0 186.3L97.5 188.8L98.0 191.3L98.5 193.8L99.0 196.3L99.5 198.8L100.0 201.2L100.5 203.7L101.0 206.2L101.5 208.9L102.0 211.8L102.5 214.8L103.0 217.7L103.5 220.6L104.0 223.6L104.5 226.6L105.0 229.6L105.5 232.5L106.0 235.5L106.5 238.5L107.0 241.9L107.5 245.3L108.0 248.6L108.5 252.3L109.0 256.1L109.5 259.9L110.0 263.7L110.5 267.5L111.0 271.3L111.5 275.1L112.0 278.9L112.5 282.7L113.0 286.4L113.5 290.2L114.0 294.0L114.5 297.8L115.0 301.6L115.5 305.5L116.0 310.4L116.5 315.4L117.0 320.3L117.5 325.2L118.0 330.2L118.5 335.1L119.0 340.1L119.5 345.0L120.0 351.1L120.5 357.2L121.0 363.4L121.5 369.5L122.0 375.5L122.5 380.8L123.0 386.1L123.5 391.3L124.0 397.0L124.5 403.6L125.0 410.1L125.5 416.7L126.0 423.3L126.5 429.8L127.0 436.0L127.5 441.4L128.0 447.0L128.5 447.0L129.0 447.0L129.5 447.0L130.0 447.0L130.5 441.4L131.0 436.0L131.5 429.8L132.0 423.3L132.5 416.7L133.0 410.1L133.5 403.6L134.0 397.0L134.5 391.3L135.0 386.1L135.5 380.8L136.0 375.5L136.5 369.5L137.0 363.4L137.5 357.2L138.0 351.1L138.5 345.0L139.0 340.1L139.5 335.1L140.0 330.2L140.5 325.2L141.0 320.3L141.5 315.4L142.0 310.4L142.5 305.5L143.0 301.6L143.5 297.8L144.0 294.0L144.5 290.2L145.0 286.4L145.5 282.7L146.0 278.9L146.5 275.1L147.0 271.3L147.5 267.5L148.0 263.7L148.5 259.9L149.0 256.1L149.5 252.3L150.0 248.7L150.5 245.5L151.0 242.4L151.5 239.2L152.0 235.9L152.5 232.5L153.0 229.2L153.5 226.8L154.0 224.4L154.5 222.0L155.0 219.3L155.5 215.9L156.0 212.6L156.5 209.9L157.0 207.3L157.5 204.8L158.0 202.1L158.5 199.2L159.0 196.3L159.5 193.5L160.0 190.6L160.5 187.7L161.0 185.1L161.5 182.8L162.0 180.5L162.5 178.2L163.0 175.9L163.5 173.6L164.0 171.2L164.5 168.9L165.0 166.7L165.5 164.7L166.0 162.7L166.5 160.7L167.0 158.7L167.5 156.0L168.0 152.9L168.5 149.8L169.0 147.6L169.5 145.7L170.0 143.7L170.5 141.8L171.0 139.7L171.5 137.6L172.0 135.4L172.5 133.2L173.0 131.2L173.5 129.3L174.0 127.4L174.5 125.5L175.0 123.7L175.5 122.1L176.0 120.7L176.5 119.2L177.0 117.8L177.5 116.3L178.0 114.9L178.5 113.5L179.0 112.0L179.5 110.6L180.0 109.2L180.5 107.7L181.0 106.3L181.5 104.9L182.0 103.6L182.5 102.2L183.0 100.8L183.5 99.5L184.0 98.1L184.5 96.8L185.0 95.6L185.5 94.4L186.0 93.1L186.5 91.9L187.0 90.7L187.5 89.4L188.0 88.2L188.5 86.9L189.0 85.6L189.5 84.3L190.0 83.0L190.5 81.8L191.0 80.7L191.5 79.6L192.0 78.6L192.5 77.5L193.0 76.5L193.5 75.5L194.0 74.5L194.5 73.6L195.0 72.7L195.5 71.9L196.0 71.0L196.5 70.1L197.0 69.2L197.5 68.4L198.0 67.6L198.5 66.8L199.0 66.0L199.5 65.2L200.0 64.5L200.5 63.7L201.0 62.9L201.5 62.2L202.0 61.6L202.5 61.0L203.0 60.4L203.5 59.7L204.0 59.1L204.5 58.5L205.0 57.9L205.5 57.2L206.0 56.6L206.5 56.1L207.0 55.7L207.5 55.2L208.0 54.8L208.5 54.3L209.0 53.9L209.5 53.4L210.0 53.0L210.5 52.5L211.0 52.3L211.5 52.0L212.0 51.8L212.5 51.6L213.0 51.4L213.5 51.1L214.0 50.9L214.5 50.7L215.0 50.5L215.5 50.4L216.0 50.2L216.5 50.0L217.0 49.9L217.5 49.7L218.0 49.5L218.5 49.3L219.0 49.3L219.5 49.2L220.0 49.2L220.5 49.2L221.0 49.1L221.5 49.1L222.0 49.1L222.5 49.0L223.0 49.0L223.5 49.0L224.0 49.1L224.5 49.1L225.0 49.1L225.5 49.2L226.0 49.2L226.5 49.2L227.0 49.3L227.5 49.4L228.0 49.5L228.5 49.7L229.0 49.9L229.5 50.1L230.0 50.2L230.5 50.4L231.0 50.6L231.5 50.7L232.0 51.0L232.5 51.2L233.0 51.4L233.5 51.6L234.0 51.9L234.5 52.1L235.0 52.3L235.5 52.6L236.0 53.0L236.5 53.5L237.0 54.0L237.5 54.4L238.0 54.9L238.5 55.3L239.0 55.8L239.5 56.2L240.0 56.8L240.5 57.4L241.0 58.0L241.5 58.6L242.0 59.3L242.5 59.9L243.0 60.5L243.5 61.1L244.0 61.8L244.5 62.4L245.0 63.1L245.5 63.8L246.0 64.6L246.5 65.4L247.0 66.2L247.5 67.0L248.0 67.8L248.5 68.5L249.0 69.4L249.5 70.3L250.0 71.1L250.5 72.0L251.0 72.9L251.5 73.8L252.0 74.7L252.5 75.7L253.0 76.7L253.5 77.8L254.0 78.8L254.5 79.8L255.0 80.9L255.5 82.0L256.0 83.3L256.5 84.6L257.0 85.9L257.5 87.2L258.0 88.4L258.5 89.7L259.0 90.9L259.5 92.1L260.0 93.4L260.5 94.6L261.0 95.8L261.5 97.1L262.0 98.4L262.5 99.7L263.0 101.1L263.5 102.5L264.0 103.8L264.5 105.2L265.0 106.6L265.5 108.0L266.0 109.4L266.5 110.9L267.0 112.3L267.5 113.7L268.0 115.2L268.5 116.6L269.0 118.1L269.5 119.5L270.0 121.0L270.5 122.4L271.0 124.0L271.5 125.9L272.0 127.8L272.5 129.7L273.0 131.5L273.5 133.6L274.0 135.8L274.5 138.0L275.0 140.2L275.5 142.2L276.0 144.1L276.5 146.1L277.0 148.0L277.5 150.4L278.0 153.6L278.5 156.7L279.0 159.1L279.5 161.1L280.0 163.1L280.5 165.1L281.0 167.1L281.5 169.4L282.0 171.7L282.5 174.0L283.0 176.4L283.5 178.7L284.0 181.0L284.5 183.3L285.0 185.5L285.5 188.3L286.0 191.2L286.5 194.0L287.0 196.9L287.5 199.8L288.0 202.7L288.5 205.3L289.0 207.9L289.5 210.4L290.0 213.2L290.5 216.6L291.0 219.9L291.5 222.5L292.0 224.9L292.5 227.3L293.0 229.9L293.5 233.2L294.0 236.6L294.5 239.8L295.0 243.0L295.5 246.2L296.0 249.4L296.5 253.0L297.0 256.8L297.5 260.6L298.0 264.4L298.5 268.2L299.0 272.0L299.5 275.8L300.0 279.6L300.5 283.4L301.0 287.2L301.5 291.0L302.0 294.8L302.5 298.6L303.0 302.3L303.5 306.5L304.0 311.4L304.5 316.4L305.0 321.3L305.5 326.2L306.0 331.2L306.5 336.1L307.0 341.0L307.5 346.2L308.0 352.3L308.5 358.5L309.0 364.6L309.5 370.7L310.0 376.6L310.5 381.8L311.0 387.1L311.5 392.4L312.0 398.3L312.5 404.9L313.0 411.5L313.5 418.0L314.0 424.6L314.5 431.1L315.0 437.0L315.5 442.8L316.0 447.0L316.5 447.0L317.0 447.0L317.5 447.0L318.0 447.0L318.5 440.0L319.0 435.0L319.5 428.5L320.0 422.0L320.5 415.4L321.0 408.8L321.5 402.2L322.0 395.7L322.5 390.3L323.0 385.0L323.5 379.7L324.0 374.4L324.5 368.3L325.0 362.1L325.5 356.0L326.0 349.9L326.5 344.0L327.0 339.1L327.5 334.1L328.0 329.2L328.5 324.3L329.0 319.3L329.5 314.4L330.0 309.4L330.5 304.6L331.0 300.8L331.5 297.0L332.0 293.3L332.5 289.5L333.0 285.7L333.5 281.9L334.0 278.1L334.5 274.3L335.0 270.5L335.5 266.7L336.0 262.9L336.5 259.1L337.0 255.3L337.5 251.5L338.0 248.1L338.5 244.9L339.0 241.7L339.5 238.5L340.0 235.2L340.5 231.9L341.0 228.7L341.5 226.3L342.0 223.9L342.5 221.6L343.0 218.6L343.5 215.2L344.0 211.9L344.5 209.4L345.0 206.8L345.5 204.3L346.0 201.6L346.5 198.7L347.0 195.8L347.5 192.9L348.0 190.0L348.5 187.1L349.0 184.6L349.5 182.3L350.0 180.0L350.5 177.8L351.0 175.4L351.5 173.1L352.0 170.8L352.5 168.4L353.0 166.3L353.5 164.3L354.0 162.3L354.5 160.3L355.0 158.3L355.5 155.4L356.0 152.3L356.5 149.2L357.0 147.2L357.5 145.3L358.0 143.3L358.5 141.4L359.0 139.3L359.5 137.1L360.0 134.9L360.5 132.8L361.0 130.8L361.5 128.9L362.0 127.0L362.5 125.2L363.0 123.3L363.5 121.8L364.0 120.4L364.5 118.9L365.0 117.5L365.5 116.0L366.0 114.6L366.5 113.2L367.0 111.7L367.5 110.3L368.0 108.9L368.5 107.4L369.0 106.0L369.5 104.6L370.0 103.3L370.5 101.9L371.0 100.6L371.5 99.2L372.0 97.8L372.5 96.6L373.0 95.3L373.5 94.1L374.0 92.9L374.5 91.6L375.0 90.4L375.5 89.2L376.0 87.9L376.5 86.6L377.0 85.4L377.5 84.1L378.0 82.8L378.5 81.5L379.0 80.5L379.5 79.4L380.0 78.4L380.5 77.3L381.0 76.3L381.5 75.2L382.0 74.4L382.5 73.5L383.0 72.6L383.5 71.7L384.0 70.8L384.5 69.9L385.0 69.0L385.5 68.2L386.0 67.4L386.5 66.7L387.0 65.9L387.5 65.1L388.0 64.3L388.5 63.5L389.0 62.7L389.5 62.1L390.0 61.5L390.5 60.9L391.0 60.2L391.5 59.6L392.0 59.0L392.5 58.4L393.0 57.7L393.5 57.1L394.0 56.5L394.5 56.0L395.0 55.6L395.5 55.1L396.0 54.7L396.5 54.2L397.0 53.8L397.5 53.3L398.0 52.9L398.5 52.5L399.0 52.2L399.5 52.0L400.0 51.8L400.5 51.5L401.0 51.3L401.5 51.1L402.0 50.9L402.5 50.7L403.0 50.5L403.5 50.3L404.0 50.2L404.5 50.0L405.0 49.8L405.5 49.6L406.0 49.5L406.5 49.3L407.0 49.3L407.5 49.2L408.0 49.2L408.5 49.2L409.0 49.1L409.5 49.1L410.0 49.1L410.5 49.0L411.0 49.0L411.5 49.0L412.0 49.1L412.5 49.1L413.0 49.1L413.5 49.2L414.0 49.2L414.5 49.3L415.0 49.3L415.5 49.4L416.0 49.6L416.5 49.7L417.0 49.9L417.5 50.1L418.0 50.3L418.5 50.4L419.0 50.6L419.5 50.8L420.0 51.0L420.5 51.2L421.0 51.5L421.5 51.7L422.0 51.9L422.5 52.1L423.0 52.4L423.5 52.7L424.0 53.1L424.5 53.6L425.0 54.0L425.5 54.5L426.0 55.0L426.5 55.4L427.0 55.9L427.5 56.3L428.0 56.9L428.5 57.5L429.0 58.1L429.5 58.7L430.0 59.4L430.5 60.0L431.0 60.6L431.5 61.2L432.0 61.9L432.5 62.5L433.0 63.2L433.5 64.0L434.0 64.8L434.5 65.6L435.0 66.3L435.5 67.1L436.0 67.9L436.5 68.7L437.0 69.5L437.5 70.4L438.0 71.3L438.5 72.2L439.0 73.1L439.5 74.0L440.0 74.9L440.5 75.9L441.0 76.9L441.5 78.0L442.0 79.0L442.5 80.0L443.0 81.1L443.5 82.3L444.0 83.6L444.5 84.8L445.0 86.1L445.5 87.4L446.0 88.7L446.5 89.9L447.0 91.2L447.5 92.4L448.0 93.6L448.5 94.8L449.0 96.1L449.5 97.3L450.0 98.7L450.5 100.0L451.0 101.4L451.5 102.7L452.0 104.1L452.5 105.5L453.0 106.9L453.5 108.3L454.0 109.7L454.5 111.2L455.0 112.6L455.5 114.0L456.0 115.5L456.5 116.9L457.0 118.4L457.5 119.8L458.0 121.3L458.5 122.7L459.0 124.4L459.5 126.3L460.0 128.2L460.5 130.0L461.0 131.9L461.5 134.1L462.0 136.2L462.5 138.4L463.0 140.6L463.5 142.6L464.0 144.5L464.5 146.5L465.0 148.4L465.5 151.1L466.0 154.2L466.5 157.3L467.0 159.5L467.5 161.5L468.0 163.5L468.5 165.5L469.0 167.5L469.5 169.8L470.0 172.2L470.5 174.5L471.0 176.8L471.5 179.1L472.0 181.4L472.5 183.7L473.0 186.0L473.5 188.9L474.0 191.7L474.5 194.6L475.0 197.5L475.5 200.4L476.0 203.3L476.5 205.8L477.0 208.4L477.5 210.9L478.0 213.9L478.5 217.3L479.0 220.6L479.5 223.0L480.0 225.4L480.5 227.8L481.0 230.5L481.5 233.9L482.0 237.2L482.5 240.4L483.0 243.6L483.5 246.8L484.0 250.0L484.5 253.8L485.0 257.6L485.5 261.4L486.0 265.2L486.5 269.0L487.0 272.8L487.5 276.6L488.0 280.4L488.5 284.2L489.0 288.0L489.5 291.7L490.0 295.5L490.5 299.3L491.0 303.1L491.5 307.5L492.0 312.4L492.5 317.3L493.0 322.3L493.5 327.2L494.0 332.2L494.5 337.1L495.0 342.0L495.5 347.4L496.0 353.6L496.5 359.7L497.0 365.8L497.5 371.9L498.0 377.6L498.5 382.9L499.0 388.2L499.5 393.4L500.0 399.6L500.5 406.2L501.0 412.8L501.5 419.4L502.0 425.9L502.5 432.4L503.0 438.0L503.5 444.2L504.0 447.0L504.5 447.0L505.0 447.0" stroke="#ffcc00" stroke-width="2" fill="none"/>
<path d="M80.5 149.5L113.5 149.5M114.5 331.5L128.5 331.5M128.5 331.5L130.5 335.5M130.5 335.5L133.5 335.5M133.5 335.5L134.5 325.5M134.5 325.5L136.5 325.5M136.5 325.5L138.5 335.5M138.5 335.5L141.5 336.5M141.5 118.5L142.5 118.5M142.5 100.5L149.5 100.5M149.5 98.5L150.5 98.5M150.5 94.5L156.5 94.5M156.5 100.5L157.5 100.5M157.5 109.5L158.5 111.5M158.5 111.5L164.5 111.5M164.5 112.5L189.5 112.5M189.5 247.5L220.5 247.5M220.5 304.5L260.5 304.5M260.5 148.5L301.5 148.5M301.5 330.5L305.5 330.5M305.5 110.5L307.5 110.5M307.5 104.5L308.5 104.5M308.5 103.5L332.5 103.5M332.5 146.5L333.5 146.5M333.5 263.5L353.5 263.5M353.5 333.5L430.5 333.5M430.5 292.5L438.5 292.5M438.5 290.5L447.5 290.5M447.5 123.5L451.5 123.5M451.5 120.5L452.5 120.5M452.5 111.5L456.5 111.5M456.5 330.5L462.5 330.5M462.5 330.5L466.5 330.5M466.5 333.5L468.5 333.5M468.5 337.5L477.5 337.5M477.5 275.5L477.5 275.5M477.5 265.5L489.5 265.5M489.5 133.5L490.5 133.5M490.5 102.5L506.5 102.5" stroke="#ff0000" stroke-width="1" fill="none" stroke-linecap="square" shape-rendering="crispEdges"/>
<path d="M114 149V301M115 157V332M142 118V337M143 100V119M150 98V101M151 94V99M157 94V101M158 100V110M165 111V113M190 112V248M221 247V305M261 148V305M302 148V331M306 110V331M308 104V111M309 103V105M333 103V147M334 146V264M354 263V334M431 292V334M439 290V293M448 123V291M452 120V124M453 111V121M457 111V331M463 330V331M467 330V334M469 333V338M478 275V338M478 265V276M490 133V266M491 102V134" stroke="#ff0000" stroke-width="2" fill="none" shape-rendering="crispEdges"/>
</g>
<path d="M80.5 47.5H592.5V447.5H80.5ZM92.5 447.5v-4M92.5 47.5v4M104.5 447.5v-4M104.5 47.5v4M116.5 447.5v-4M116.5 47.5v4M127.5 447.5v-4M127.5 47.5v4M139.5 447.5v-4M139.5 47.5v4M151.5 447.5v-4M151.5 47.5v4M163.5 447.5v-4M163.5 47.5v4M175.5 447.5v-4M175.5 47.5v4M187.5 447.5v-4M187.5 47.5v4M199.5 447.5v-4M199.5 47.5v4M210.5 447.5v-4M210.5 47.5v4M222.5 447.5v-8M222.5 47.5v8M234.5 447.5v-4M234.5 47.5v4M246.5 447.5v-4M246.5 47.5v4M258.5 447.5v-4M258.5 47.5v4M270.5 447.5v-4M270.5 47.5v4M281.5 447.5v-4M281.5 47.5v4M293.5 447.5v-4M293.5 47.5v4M305.5 447.5v-4M305.5 47.5v4M317.5 447.5v-4M317.5 47.5v4M329.5 447.5v-4M329.5 47.5v4M341.5 447.5v-4M341.5 47.5v4M353.5 447.5v-4M353.5 47.5v4M364.5 447.5v-8M364.5 47.5v8M376.5 447.5v-4M376.5 47.5v4M388.5 447.5v-4M388.5 47.5v4M400.5 447.5v-4M400.5 47.5v4M412.5 447.5v-4M412.5 47.5v4M424.5 447.5v-4M424.5 47.5v4M436.5 447.5v-4M436.5 47.5v4M447.5 447.5v-4M447.5 47.5v4M459.5 447.5v-4M459.5 47.5v4M471.5 447.5v-4M471.5 47.5v4M483.5 447.5v-4M483.5 47.5v4M495.5 447.5v-4M495.5 47.5v4M507.5 447.5v-8M507.5 47.5v8M519.5 447.5v-4M519.5 47.5v4M530.5 447.5v-4M530.5 47.5v4M542.5 447.5v-4M542.5 47.5v4M554.5 447.5v-4M554.5 47.5v4M566.5 447.5v-4M566.5 47.5v4M578.5 447.5v-4M578.5 47.5v4M590.5 447.5v-4M590.5 47.5v4M80.5 429.5h10.5M592.5 429.5h-10.5M80.5 411.5h5.5M592.5 411.5h-5.5M80.5 392.5h5.5M592.5 392.5h-5.5M80.5 374.5h5.5M592.5 374.5h-5.5M80.5 356.5h5.5M592.5 356.5h-5.5M80.5 338.5h10.5M592.5 338.5h-10.5M80.5 320.5h5.5M592.5 320.5h-5.5M80.5 302.5h5.5M592.5 302.5h-5.5M80.5 283.5h5.5M592.5 283.5h-5.5M80.5 265.5h5.5M592.5 265.5h-5.5M80.5 247.5h10.5M592.5 247.5h-10.5M80.5 229.5h5.5M592.5 229.5h-5.5M80.5 211.5h5.5M592.5 211.5h-5.5M80.5 192.5h5.5M592.5 192.5h-5.5M80.5 174.5h5.5M592.5 174.5h-5.5M80.5 156.5h10.5M592.5 156.5h-10.5M80.5 138.5h5.5M592.5 138.5h-5.5M80.5 120.5h5.5M592.5 120.5h-5.5M80.5 102.5h5.5M592.5 102.5h-5.5M80.5 83.5h5.5M592.5 83.5h-5.5M80.5 65.5h10.5M592.5 65.5h-10.5" stroke="#fff" stroke-width="1" fill="none" shape-rendering="crispEdges"/>
<text x="96.40" y="510.00" font-size="14.5" fill="#fff" text-anchor="start" textLength="57.8" lengthAdjust="spacingAndGlyphs" >FP_temp</text>
<text x="192.20" y="510.00" font-size="14.5" fill="#ff0000" text-anchor="start" textLength="66.2" lengthAdjust="spacingAndGlyphs" >Sun angle</text>
<text x="479.20" y="510.00" font-size="14.5" fill="#ffcc00" text-anchor="start" textLength="49.2" lengthAdjust="spacingAndGlyphs" >Altitude</text>
<text x="76.00" y="591.18" font-size="14.5" fill="#fff" text-anchor="end" textLength="35.6" lengthAdjust="spacingAndGlyphs" >−100</text>
<text x="76.00" y="682.09" font-size="14.5" fill="#fff" text-anchor="end" textLength="35.6" lengthAdjust="spacingAndGlyphs" >−105</text>
<text x="76.00" y="773.00" font-size="14.5" fill="#fff" text-anchor="end" textLength="35.6" lengthAdjust="spacingAndGlyphs" >−110</text>
<text x="76.00" y="863.91" font-size="14.5" fill="#fff" text-anchor="end" textLength="35.6" lengthAdjust="spacingAndGlyphs" >−115</text>
<text x="76.00" y="954.82" font-size="14.5" fill="#fff" text-anchor="end" textLength="35.6" lengthAdjust="spacingAndGlyphs" >−120</text>
<text x="80.00" y="987.00" font-size="14.5" fill="#fff" text-anchor="middle" textLength="40.0" lengthAdjust="spacingAndGlyphs" >Jan07</text>
<text x="222.22" y="987.00" font-size="14.5" fill="#fff" text-anchor="middle" textLength="40.0" lengthAdjust="spacingAndGlyphs" >Jan09</text>
<text x="364.44" y="987.00" font-size="14.5" fill="#fff" text-anchor="middle" textLength="40.0" lengthAdjust="spacingAndGlyphs" >Jan11</text>
<text x="506.67" y="987.00" font-size="14.5" fill="#fff" text-anchor="middle" textLength="40.0" lengthAdjust="spacingAndGlyphs" >Jan13</text>
<text x="338.60" y="1003.00" font-size="14.5" fill="#fff" text-anchor="middle" textLength="32.6" lengthAdjust="spacingAndGlyphs" >2011</text>
<text x="597.00" y="568.00" font-size="14.5" fill="#fff" text-anchor="start" textLength="24.7" lengthAdjust="spacingAndGlyphs" >180</text>
<text x="597.00" y="668.00" font-size="14.5" fill="#fff" text-anchor="start" textLength="17.5" lengthAdjust="spacingAndGlyphs" >90</text>
<text x="597.00" y="768.00" font-size="14.5" fill="#fff" text-anchor="start" textLength="9.0" lengthAdjust="spacingAndGlyphs" >0</text>
<text x="597.00" y="868.00" font-size="14.5" fill="#fff" text-anchor="start" textLength="28.0" lengthAdjust="spacingAndGlyphs" >−90</text>
<text x="597.00" y="968.00" font-size="14.5" fill="#fff" text-anchor="start" textLength="36.5" lengthAdjust="spacingAndGlyphs" >−180</text>
<text x="166.00" y="561.00" font-size="17" fill="#fff" text-anchor="start" textLength="340.8" lengthAdjust="spacingAndGlyphs" >Focal Plane Temp and Sun/Earth Angles</text>
<text transform="translate(29.6,853.2) rotate(-90)" font-size="14.5" fill="#fff" textLength="169.6" lengthAdjust="spacingAndGlyphs">Focal Plane Temp (degC)</text>
<text transform="translate(632,831.8) rotate(-90)" font-size="14.5" fill="#fff" textLength="103.6" lengthAdjust="spacingAndGlyphs">Angle (degrees)</text>
<g clip-path="url(#clipBot)">
<path d="M80.0 943.2L88.0 942.0L93.0 941.0L103.0 940.0L112.0 939.0L118.0 940.7L124.0 943.5L127.0 944.0M143.0 943.0L146.0 942.7L163.0 943.0L180.0 942.7L187.0 941.0L195.0 941.5L203.0 943.3L240.0 945.8L259.0 945.5L275.0 942.5L295.0 940.0L306.0 939.0L311.0 942.0L315.0 943.5M338.0 943.0L342.0 943.0L369.0 945.7L400.0 946.0L430.0 946.0L443.0 944.5L456.0 942.7L467.0 944.9L490.0 944.7L506.0 944.3" stroke="#fff" stroke-width="5.5" fill="none" stroke-linejoin="round"/>
<path d="M138.6 856.0L139.8 865.0L140.5 880.0L141.0 895.0L142.0 908.0L143.0 920.0L143.8 932.0L144.3 939.0L146.5 943.0M326.4 770.0L327.0 789.0L328.0 812.0L329.2 835.0L331.0 858.5L332.7 881.5L335.5 904.6L339.0 927.7L341.4 939.0L344.0 943.0" stroke="#fff" stroke-width="4" fill="none" stroke-linejoin="round"/>
<path d="M127 618.5h1m4 0h1m-5 1h4m-5 1h6m-5 1h2m1 0h1m-5 1h1m4 0h1M129.5 618v5M127 634.5h1m4 0h1m-5 1h4m-5 1h6m-5 1h2m1 0h1m-5 1h1m4 0h1M129.5 634v5M127 658.5h1m4 0h1m-5 1h4m-5 1h6m-5 1h2m1 0h1m-5 1h1m4 0h1M129.5 658v5M127 690.5h1m4 0h1m-5 1h4m-5 1h6m-5 1h2m1 0h1m-5 1h1m4 0h1M129.5 690v5M127 730.5h1m4 0h1m-5 1h4m-5 1h6m-5 1h2m1 0h1m-5 1h1m4 0h1M129.5 730v5M127 772.5h1m4 0h1m-5 1h4m-5 1h6m-5 1h2m1 0h1m-5 1h1m4 0h1M129.5 772v5M127 813.5h1m4 0h1m-5 1h4m-5 1h6m-5 1h2m1 0h1m-5 1h1m4 0h1M129.5 813v5M127 849.5h1m4 0h1m-5 1h4m-5 1h6m-5 1h2m1 0h1m-5 1h1m4 0h1M129.5 849v5M127 879.5h1m4 0h1m-5 1h4m-5 1h6m-5 1h2m1 0h1m-5 1h1m4 0h1M129.5 879v5M127 901.5h1m4 0h1m-5 1h4m-5 1h6m-5 1h2m1 0h1m-5 1h1m4 0h1M129.5 901v5M127 918.5h1m4 0h1m-5 1h4m-5 1h6m-5 1h2m1 0h1m-5 1h1m4 0h1M129.5 918v5M127 929.5h1m4 0h1m-5 1h4m-5 1h6m-5 1h2m1 0h1m-5 1h1m4 0h1M129.5 929v5M315 624.5h1m4 0h1m-5 1h4m-5 1h6m-5 1h2m1 0h1m-5 1h1m4 0h1M317.5 624v5M315 650.5h1m4 0h1m-5 1h4m-5 1h6m-5 1h2m1 0h1m-5 1h1m4 0h1M317.5 650v5M315 684.5h1m4 0h1m-5 1h4m-5 1h6m-5 1h2m1 0h1m-5 1h1m4 0h1M317.5 684v5M315 723.5h1m4 0h1m-5 1h4m-5 1h6m-5 1h2m1 0h1m-5 1h1m4 0h1M317.5 723v5M315 769.5h1m4 0h1m-5 1h4m-5 1h6m-5 1h2m1 0h1m-5 1h1m4 0h1M317.5 769v5M315 813.5h1m4 0h1m-5 1h4m-5 1h6m-5 1h2m1 0h1m-5 1h1m4 0h1M317.5 813v5M315 856.5h1m4 0h1m-5 1h4m-5 1h6m-5 1h2m1 0h1m-5 1h1m4 0h1M317.5 856v5M315 891.5h1m4 0h1m-5 1h4m-5 1h6m-5 1h2m1 0h1m-5 1h1m4 0h1M317.5 891v5M315 916.5h1m4 0h1m-5 1h4m-5 1h6m-5 1h2m1 0h1m-5 1h1m4 0h1M317.5 916v5M315 929.5h1m4 0h1m-5 1h4m-5 1h6m-5 1h2m1 0h1m-5 1h1m4 0h1M317.5 929v5M505 655.5h1m4 0h1m-5 1h4m-5 1h6m-5 1h2m1 0h1m-5 1h1m4 0h1M507.5 655v5M505 677.5h1m4 0h1m-5 1h4m-5 1h6m-5 1h2m1 0h1m-5 1h1m4 0h1M507.5 677v5M504 705.5h1m4 0h1m-5 1h4m-5 1h6m-5 1h2m1 0h1m-5 1h1m4 0h1M506.5 705v5M504 737.5h1m4 0h1m-5 1h4m-5 1h6m-5 1h2m1 0h1m-5 1h1m4 0h1M506.5 737v5M504 775.5h1m4 0h1m-5 1h4m-5 1h6m-5 1h2m1 0h1m-5 1h1m4 0h1M506.5 775v5M504 816.5h1m4 0h1m-5 1h4m-5 1h6m-5 1h2m1 0h1m-5 1h1m4 0h1M506.5 816v5M504 857.5h1m4 0h1m-5 1h4m-5 1h6m-5 1h2m1 0h1m-5 1h1m4 0h1M506.5 857v5M504 890.5h1m4 0h1m-5 1h4m-5 1h6m-5 1h2m1 0h1m-5 1h1m4 0h1M506.5 890v5M503 914.5h1m4 0h1m-5 1h4m-5 1h6m-5 1h2m1 0h1m-5 1h1m4 0h1M505.5 914v5M503 930.5h1m4 0h1m-5 1h4m-5 1h6m-5 1h2m1 0h1m-5 1h1m4 0h1M505.5 930v5M128 601.5h1m4 0h1m-5 1h4m-5 1h6m-5 1h2m1 0h1m-5 1h1m4 0h1M130.5 601v5M130 602.5h1m4 0h1m-5 1h4m-5 1h6m-5 1h2m1 0h1m-5 1h1m4 0h1M132.5 602v5M129 605.5h1m4 0h1m-5 1h4m-5 1h6m-5 1h2m1 0h1m-5 1h1m4 0h1M131.5 605v5M131 607.5h1m4 0h1m-5 1h4m-5 1h6m-5 1h2m1 0h1m-5 1h1m4 0h1M133.5 607v5M130 610.5h1m4 0h1m-5 1h4m-5 1h6m-5 1h2m1 0h1m-5 1h1m4 0h1M132.5 610v5M131 612.5h1m4 0h1m-5 1h4m-5 1h6m-5 1h2m1 0h1m-5 1h1m4 0h1M133.5 612v5M128 618.5h1m4 0h1m-5 1h4m-5 1h6m-5 1h2m1 0h1m-5 1h1m4 0h1M130.5 618v5M131 619.5h1m4 0h1m-5 1h4m-5 1h6m-5 1h2m1 0h1m-5 1h1m4 0h1M133.5 619v5M130 624.5h1m4 0h1m-5 1h4m-5 1h6m-5 1h2m1 0h1m-5 1h1m4 0h1M132.5 624v5M131 642.5h1m4 0h1m-5 1h4m-5 1h6m-5 1h2m1 0h1m-5 1h1m4 0h1M133.5 642v5M131 653.5h1m4 0h1m-5 1h4m-5 1h6m-5 1h2m1 0h1m-5 1h1m4 0h1M133.5 653v5M131 662.5h1m4 0h1m-5 1h4m-5 1h6m-5 1h2m1 0h1m-5 1h1m4 0h1M133.5 662v5M131 673.5h1m4 0h1m-5 1h4m-5 1h6m-5 1h2m1 0h1m-5 1h1m4 0h1M133.5 673v5M132 683.5h1m4 0h1m-5 1h4m-5 1h6m-5 1h2m1 0h1m-5 1h1m4 0h1M134.5 683v5M317 572.5h1m4 0h1m-5 1h4m-5 1h6m-5 1h2m1 0h1m-5 1h1m4 0h1M319.5 572v5M318 574.5h1m4 0h1m-5 1h4m-5 1h6m-5 1h2m1 0h1m-5 1h1m4 0h1M320.5 574v5M318 576.5h1m4 0h1m-5 1h4m-5 1h6m-5 1h2m1 0h1m-5 1h1m4 0h1M320.5 576v5M318 579.5h1m4 0h1m-5 1h4m-5 1h6m-5 1h2m1 0h1m-5 1h1m4 0h1M320.5 579v5M318 582.5h1m4 0h1m-5 1h4m-5 1h6m-5 1h2m1 0h1m-5 1h1m4 0h1M320.5 582v5M318 585.5h1m4 0h1m-5 1h4m-5 1h6m-5 1h2m1 0h1m-5 1h1m4 0h1M320.5 585v5M318 589.5h1m4 0h1m-5 1h4m-5 1h6m-5 1h2m1 0h1m-5 1h1m4 0h1M320.5 589v5M319 593.5h1m4 0h1m-5 1h4m-5 1h6m-5 1h2m1 0h1m-5 1h1m4 0h1M321.5 593v5M318 598.5h1m4 0h1m-5 1h4m-5 1h6m-5 1h2m1 0h1m-5 1h1m4 0h1M320.5 598v5M319 604.5h1m4 0h1m-5 1h4m-5 1h6m-5 1h2m1 0h1m-5 1h1m4 0h1M321.5 604v5M318 610.5h1m4 0h1m-5 1h4m-5 1h6m-5 1h2m1 0h1m-5 1h1m4 0h1M320.5 610v5M320 618.5h1m4 0h1m-5 1h4m-5 1h6m-5 1h2m1 0h1m-5 1h1m4 0h1M322.5 618v5M320 627.5h1m4 0h1m-5 1h4m-5 1h6m-5 1h2m1 0h1m-5 1h1m4 0h1M322.5 627v5M320 636.5h1m4 0h1m-5 1h4m-5 1h6m-5 1h2m1 0h1m-5 1h1m4 0h1M322.5 636v5M320 645.5h1m4 0h1m-5 1h4m-5 1h6m-5 1h2m1 0h1m-5 1h1m4 0h1M322.5 645v5M318 651.5h1m4 0h1m-5 1h4m-5 1h6m-5 1h2m1 0h1m-5 1h1m4 0h1M320.5 651v5M320 658.5h1m4 0h1m-5 1h4m-5 1h6m-5 1h2m1 0h1m-5 1h1m4 0h1M322.5 658v5M321 668.5h1m4 0h1m-5 1h4m-5 1h6m-5 1h2m1 0h1m-5 1h1m4 0h1M323.5 668v5M321 678.5h1m4 0h1m-5 1h4m-5 1h6m-5 1h2m1 0h1m-5 1h1m4 0h1M323.5 678v5M319 684.5h1m4 0h1m-5 1h4m-5 1h6m-5 1h2m1 0h1m-5 1h1m4 0h1M321.5 684v5M322 688.5h1m4 0h1m-5 1h4m-5 1h6m-5 1h2m1 0h1m-5 1h1m4 0h1M324.5 688v5M322 698.5h1m4 0h1m-5 1h4m-5 1h6m-5 1h2m1 0h1m-5 1h1m4 0h1M324.5 698v5M132 692.5h1m4 0h1m-5 1h4m-5 1h6m-5 1h2m1 0h1m-5 1h1m4 0h1M134.5 692v5M132 702.5h1m4 0h1m-5 1h4m-5 1h6m-5 1h2m1 0h1m-5 1h1m4 0h1M134.5 702v5M132 713.5h1m4 0h1m-5 1h4m-5 1h6m-5 1h2m1 0h1m-5 1h1m4 0h1M134.5 713v5M133 723.5h1m4 0h1m-5 1h4m-5 1h6m-5 1h2m1 0h1m-5 1h1m4 0h1M135.5 723v5M133 732.5h1m4 0h1m-5 1h4m-5 1h6m-5 1h2m1 0h1m-5 1h1m4 0h1M135.5 732v5M133 741.5h1m4 0h1m-5 1h4m-5 1h6m-5 1h2m1 0h1m-5 1h1m4 0h1M135.5 741v5M133 750.5h1m4 0h1m-5 1h4m-5 1h6m-5 1h2m1 0h1m-5 1h1m4 0h1M135.5 750v5M134 759.5h1m4 0h1m-5 1h4m-5 1h6m-5 1h2m1 0h1m-5 1h1m4 0h1M136.5 759v5M134 768.5h1m4 0h1m-5 1h4m-5 1h6m-5 1h2m1 0h1m-5 1h1m4 0h1M136.5 768v5M134 776.5h1m4 0h1m-5 1h4m-5 1h6m-5 1h2m1 0h1m-5 1h1m4 0h1M136.5 776v5M134 785.5h1m4 0h1m-5 1h4m-5 1h6m-5 1h2m1 0h1m-5 1h1m4 0h1M136.5 785v5M134 793.5h1m4 0h1m-5 1h4m-5 1h6m-5 1h2m1 0h1m-5 1h1m4 0h1M136.5 793v5M135 800.5h1m4 0h1m-5 1h4m-5 1h6m-5 1h2m1 0h1m-5 1h1m4 0h1M137.5 800v5M135 807.5h1m4 0h1m-5 1h4m-5 1h6m-5 1h2m1 0h1m-5 1h1m4 0h1M137.5 807v5M135 814.5h1m4 0h1m-5 1h4m-5 1h6m-5 1h2m1 0h1m-5 1h1m4 0h1M137.5 814v5M136 821.5h1m4 0h1m-5 1h4m-5 1h6m-5 1h2m1 0h1m-5 1h1m4 0h1M138.5 821v5M136 828.5h1m4 0h1m-5 1h4m-5 1h6m-5 1h2m1 0h1m-5 1h1m4 0h1M138.5 828v5M136 834.5h1m4 0h1m-5 1h4m-5 1h6m-5 1h2m1 0h1m-5 1h1m4 0h1M138.5 834v5M136 840.5h1m4 0h1m-5 1h4m-5 1h6m-5 1h2m1 0h1m-5 1h1m4 0h1M138.5 840v5M136 846.5h1m4 0h1m-5 1h4m-5 1h6m-5 1h2m1 0h1m-5 1h1m4 0h1M138.5 846v5M136 850.5h1m4 0h1m-5 1h4m-5 1h6m-5 1h2m1 0h1m-5 1h1m4 0h1M138.5 850v5M322 708.5h1m4 0h1m-5 1h4m-5 1h6m-5 1h2m1 0h1m-5 1h1m4 0h1M324.5 708v5M322 717.5h1m4 0h1m-5 1h4m-5 1h6m-5 1h2m1 0h1m-5 1h1m4 0h1M324.5 717v5M322 726.5h1m4 0h1m-5 1h4m-5 1h6m-5 1h2m1 0h1m-5 1h1m4 0h1M324.5 726v5M322 735.5h1m4 0h1m-5 1h4m-5 1h6m-5 1h2m1 0h1m-5 1h1m4 0h1M324.5 735v5M323 743.5h1m4 0h1m-5 1h4m-5 1h6m-5 1h2m1 0h1m-5 1h1m4 0h1M325.5 743v5M323 751.5h1m4 0h1m-5 1h4m-5 1h6m-5 1h2m1 0h1m-5 1h1m4 0h1M325.5 751v5M323 759.5h1m4 0h1m-5 1h4m-5 1h6m-5 1h2m1 0h1m-5 1h1m4 0h1M325.5 759v5M324 767.5h1m4 0h1m-5 1h4m-5 1h6m-5 1h2m1 0h1m-5 1h1m4 0h1M326.5 767v5M324 775.5h1m4 0h1m-5 1h4m-5 1h6m-5 1h2m1 0h1m-5 1h1m4 0h1M326.5 775v5M324 783.5h1m4 0h1m-5 1h4m-5 1h6m-5 1h2m1 0h1m-5 1h1m4 0h1M326.5 783v5M325 790.5h1m4 0h1m-5 1h4m-5 1h6m-5 1h2m1 0h1m-5 1h1m4 0h1M327.5 790v5M325 797.5h1m4 0h1m-5 1h4m-5 1h6m-5 1h2m1 0h1m-5 1h1m4 0h1M327.5 797v5M325 804.5h1m4 0h1m-5 1h4m-5 1h6m-5 1h2m1 0h1m-5 1h1m4 0h1M327.5 804v5M326 811.5h1m4 0h1m-5 1h4m-5 1h6m-5 1h2m1 0h1m-5 1h1m4 0h1M328.5 811v5M326 817.5h1m4 0h1m-5 1h4m-5 1h6m-5 1h2m1 0h1m-5 1h1m4 0h1M328.5 817v5M78 940.5h1m4 0h1m-5 1h4m-5 1h6m-5 1h2m1 0h1m-5 1h1m4 0h1M80.5 940v5M81 942.5h1m4 0h1m-5 1h4m-5 1h6m-5 1h2m1 0h1m-5 1h1m4 0h1M83.5 942v5M83 941.5h1m4 0h1m-5 1h4m-5 1h6m-5 1h2m1 0h1m-5 1h1m4 0h1M85.5 941v5M86 939.5h1m4 0h1m-5 1h4m-5 1h6m-5 1h2m1 0h1m-5 1h1m4 0h1M88.5 939v5M89 940.5h1m4 0h1m-5 1h4m-5 1h6m-5 1h2m1 0h1m-5 1h1m4 0h1M91.5 940v5M91 940.5h1m4 0h1m-5 1h4m-5 1h6m-5 1h2m1 0h1m-5 1h1m4 0h1M93.5 940v5M94 939.5h1m4 0h1m-5 1h4m-5 1h6m-5 1h2m1 0h1m-5 1h1m4 0h1M96.5 939v5M96 939.5h1m4 0h1m-5 1h4m-5 1h6m-5 1h2m1 0h1m-5 1h1m4 0h1M98.5 939v5M99 938.5h1m4 0h1m-5 1h4m-5 1h6m-5 1h2m1 0h1m-5 1h1m4 0h1M101.5 938v5M101 937.5h1m4 0h1m-5 1h4m-5 1h6m-5 1h2m1 0h1m-5 1h1m4 0h1M103.5 937v5M103 937.5h1m4 0h1m-5 1h4m-5 1h6m-5 1h2m1 0h1m-5 1h1m4 0h1M105.5 937v5M106 938.5h1m4 0h1m-5 1h4m-5 1h6m-5 1h2m1 0h1m-5 1h1m4 0h1M108.5 938v5M108 938.5h1m4 0h1m-5 1h4m-5 1h6m-5 1h2m1 0h1m-5 1h1m4 0h1M110.5 938v5M110 937.5h1m4 0h1m-5 1h4m-5 1h6m-5 1h2m1 0h1m-5 1h1m4 0h1M112.5 937v5M113 939.5h1m4 0h1m-5 1h4m-5 1h6m-5 1h2m1 0h1m-5 1h1m4 0h1M115.5 939v5M116 939.5h1m4 0h1m-5 1h4m-5 1h6m-5 1h2m1 0h1m-5 1h1m4 0h1M118.5 939v5M119 941.5h1m4 0h1m-5 1h4m-5 1h6m-5 1h2m1 0h1m-5 1h1m4 0h1M121.5 941v5M122 942.5h1m4 0h1m-5 1h4m-5 1h6m-5 1h2m1 0h1m-5 1h1m4 0h1M124.5 942v5M141 940.5h1m4 0h1m-5 1h4m-5 1h6m-5 1h2m1 0h1m-5 1h1m4 0h1M143.5 940v5M144 941.5h1m4 0h1m-5 1h4m-5 1h6m-5 1h2m1 0h1m-5 1h1m4 0h1M146.5 941v5M146 941.5h1m4 0h1m-5 1h4m-5 1h6m-5 1h2m1 0h1m-5 1h1m4 0h1M148.5 941v5M149 941.5h1m4 0h1m-5 1h4m-5 1h6m-5 1h2m1 0h1m-5 1h1m4 0h1M151.5 941v5M151 941.5h1m4 0h1m-5 1h4m-5 1h6m-5 1h2m1 0h1m-5 1h1m4 0h1M153.5 941v5M154 942.5h1m4 0h1m-5 1h4m-5 1h6m-5 1h2m1 0h1m-5 1h1m4 0h1M156.5 942v5M156 941.5h1m4 0h1m-5 1h4m-5 1h6m-5 1h2m1 0h1m-5 1h1m4 0h1M158.5 941v5M158 940.5h1m4 0h1m-5 1h4m-5 1h6m-5 1h2m1 0h1m-5 1h1m4 0h1M160.5 940v5M161 942.5h1m4 0h1m-5 1h4m-5 1h6m-5 1h2m1 0h1m-5 1h1m4 0h1M163.5 942v5M163 941.5h1m4 0h1m-5 1h4m-5 1h6m-5 1h2m1 0h1m-5 1h1m4 0h1M165.5 941v5M165 940.5h1m4 0h1m-5 1h4m-5 1h6m-5 1h2m1 0h1m-5 1h1m4 0h1M167.5 940v5M168 941.5h1m4 0h1m-5 1h4m-5 1h6m-5 1h2m1 0h1m-5 1h1m4 0h1M170.5 941v5M171 941.5h1m4 0h1m-5 1h4m-5 1h6m-5 1h2m1 0h1m-5 1h1m4 0h1M173.5 941v5M173 941.5h1m4 0h1m-5 1h4m-5 1h6m-5 1h2m1 0h1m-5 1h1m4 0h1M175.5 941v5M176 941.5h1m4 0h1m-5 1h4m-5 1h6m-5 1h2m1 0h1m-5 1h1m4 0h1M178.5 941v5M178 942.5h1m4 0h1m-5 1h4m-5 1h6m-5 1h2m1 0h1m-5 1h1m4 0h1M180.5 942v5M180 941.5h1m4 0h1m-5 1h4m-5 1h6m-5 1h2m1 0h1m-5 1h1m4 0h1M182.5 941v5M183 938.5h1m4 0h1m-5 1h4m-5 1h6m-5 1h2m1 0h1m-5 1h1m4 0h1M185.5 938v5M185 940.5h1m4 0h1m-5 1h4m-5 1h6m-5 1h2m1 0h1m-5 1h1m4 0h1M187.5 940v5M188 939.5h1m4 0h1m-5 1h4m-5 1h6m-5 1h2m1 0h1m-5 1h1m4 0h1M190.5 939v5M190 939.5h1m4 0h1m-5 1h4m-5 1h6m-5 1h2m1 0h1m-5 1h1m4 0h1M192.5 939v5M193 939.5h1m4 0h1m-5 1h4m-5 1h6m-5 1h2m1 0h1m-5 1h1m4 0h1M195.5 939v5M196 939.5h1m4 0h1m-5 1h4m-5 1h6m-5 1h2m1 0h1m-5 1h1m4 0h1M198.5 939v5M198 942.5h1m4 0h1m-5 1h4m-5 1h6m-5 1h2m1 0h1m-5 1h1m4 0h1M200.5 942v5M201 942.5h1m4 0h1m-5 1h4m-5 1h6m-5 1h2m1 0h1m-5 1h1m4 0h1M203.5 942v5M203 942.5h1m4 0h1m-5 1h4m-5 1h6m-5 1h2m1 0h1m-5 1h1m4 0h1M205.5 942v5M206 941.5h1m4 0h1m-5 1h4m-5 1h6m-5 1h2m1 0h1m-5 1h1m4 0h1M208.5 941v5M208 942.5h1m4 0h1m-5 1h4m-5 1h6m-5 1h2m1 0h1m-5 1h1m4 0h1M210.5 942v5M210 941.5h1m4 0h1m-5 1h4m-5 1h6m-5 1h2m1 0h1m-5 1h1m4 0h1M212.5 941v5M213 942.5h1m4 0h1m-5 1h4m-5 1h6m-5 1h2m1 0h1m-5 1h1m4 0h1M215.5 942v5M215 941.5h1m4 0h1m-5 1h4m-5 1h6m-5 1h2m1 0h1m-5 1h1m4 0h1M217.5 941v5M217 942.5h1m4 0h1m-5 1h4m-5 1h6m-5 1h2m1 0h1m-5 1h1m4 0h1M219.5 942v5M220 941.5h1m4 0h1m-5 1h4m-5 1h6m-5 1h2m1 0h1m-5 1h1m4 0h1M222.5 941v5M222 944.5h1m4 0h1m-5 1h4m-5 1h6m-5 1h2m1 0h1m-5 1h1m4 0h1M224.5 944v5M224 944.5h1m4 0h1m-5 1h4m-5 1h6m-5 1h2m1 0h1m-5 1h1m4 0h1M226.5 944v5M227 944.5h1m4 0h1m-5 1h4m-5 1h6m-5 1h2m1 0h1m-5 1h1m4 0h1M229.5 944v5M229 943.5h1m4 0h1m-5 1h4m-5 1h6m-5 1h2m1 0h1m-5 1h1m4 0h1M231.5 943v5M231 945.5h1m4 0h1m-5 1h4m-5 1h6m-5 1h2m1 0h1m-5 1h1m4 0h1M233.5 945v5M233 943.5h1m4 0h1m-5 1h4m-5 1h6m-5 1h2m1 0h1m-5 1h1m4 0h1M235.5 943v5M236 943.5h1m4 0h1m-5 1h4m-5 1h6m-5 1h2m1 0h1m-5 1h1m4 0h1M238.5 943v5M238 943.5h1m4 0h1m-5 1h4m-5 1h6m-5 1h2m1 0h1m-5 1h1m4 0h1M240.5 943v5M241 943.5h1m4 0h1m-5 1h4m-5 1h6m-5 1h2m1 0h1m-5 1h1m4 0h1M243.5 943v5M243 943.5h1m4 0h1m-5 1h4m-5 1h6m-5 1h2m1 0h1m-5 1h1m4 0h1M245.5 943v5M245 944.5h1m4 0h1m-5 1h4m-5 1h6m-5 1h2m1 0h1m-5 1h1m4 0h1M247.5 944v5M247 943.5h1m4 0h1m-5 1h4m-5 1h6m-5 1h2m1 0h1m-5 1h1m4 0h1M249.5 943v5M250 945.5h1m4 0h1m-5 1h4m-5 1h6m-5 1h2m1 0h1m-5 1h1m4 0h1M252.5 945v5M253 944.5h1m4 0h1m-5 1h4m-5 1h6m-5 1h2m1 0h1m-5 1h1m4 0h1M255.5 944v5M255 945.5h1m4 0h1m-5 1h4m-5 1h6m-5 1h2m1 0h1m-5 1h1m4 0h1M257.5 945v5M257 944.5h1m4 0h1m-5 1h4m-5 1h6m-5 1h2m1 0h1m-5 1h1m4 0h1M259.5 944v5M259 944.5h1m4 0h1m-5 1h4m-5 1h6m-5 1h2m1 0h1m-5 1h1m4 0h1M261.5 944v5M262 943.5h1m4 0h1m-5 1h4m-5 1h6m-5 1h2m1 0h1m-5 1h1m4 0h1M264.5 943v5M264 942.5h1m4 0h1m-5 1h4m-5 1h6m-5 1h2m1 0h1m-5 1h1m4 0h1M266.5 942v5M266 943.5h1m4 0h1m-5 1h4m-5 1h6m-5 1h2m1 0h1m-5 1h1m4 0h1M268.5 943v5M268 941.5h1m4 0h1m-5 1h4m-5 1h6m-5 1h2m1 0h1m-5 1h1m4 0h1M270.5 941v5M271 940.5h1m4 0h1m-5 1h4m-5 1h6m-5 1h2m1 0h1m-5 1h1m4 0h1M273.5 940v5M273 942.5h1m4 0h1m-5 1h4m-5 1h6m-5 1h2m1 0h1m-5 1h1m4 0h1M275.5 942v5M275 941.5h1m4 0h1m-5 1h4m-5 1h6m-5 1h2m1 0h1m-5 1h1m4 0h1M277.5 941v5M277 940.5h1m4 0h1m-5 1h4m-5 1h6m-5 1h2m1 0h1m-5 1h1m4 0h1M279.5 940v5M280 939.5h1m4 0h1m-5 1h4m-5 1h6m-5 1h2m1 0h1m-5 1h1m4 0h1M282.5 939v5M282 939.5h1m4 0h1m-5 1h4m-5 1h6m-5 1h2m1 0h1m-5 1h1m4 0h1M284.5 939v5M285 939.5h1m4 0h1m-5 1h4m-5 1h6m-5 1h2m1 0h1m-5 1h1m4 0h1M287.5 939v5M286 940.5h1m4 0h1m-5 1h4m-5 1h6m-5 1h2m1 0h1m-5 1h1m4 0h1M288.5 940v5M289 938.5h1m4 0h1m-5 1h4m-5 1h6m-5 1h2m1 0h1m-5 1h1m4 0h1M291.5 938v5M290 937.5h1m4 0h1m-5 1h4m-5 1h6m-5 1h2m1 0h1m-5 1h1m4 0h1M292.5 937v5M293 938.5h1m4 0h1m-5 1h4m-5 1h6m-5 1h2m1 0h1m-5 1h1m4 0h1M295.5 938v5M295 937.5h1m4 0h1m-5 1h4m-5 1h6m-5 1h2m1 0h1m-5 1h1m4 0h1M297.5 937v5M297 938.5h1m4 0h1m-5 1h4m-5 1h6m-5 1h2m1 0h1m-5 1h1m4 0h1M299.5 938v5M300 938.5h1m4 0h1m-5 1h4m-5 1h6m-5 1h2m1 0h1m-5 1h1m4 0h1M302.5 938v5M302 937.5h1m4 0h1m-5 1h4m-5 1h6m-5 1h2m1 0h1m-5 1h1m4 0h1M304.5 937v5M304 937.5h1m4 0h1m-5 1h4m-5 1h6m-5 1h2m1 0h1m-5 1h1m4 0h1M306.5 937v5M306 937.5h1m4 0h1m-5 1h4m-5 1h6m-5 1h2m1 0h1m-5 1h1m4 0h1M308.5 937v5M309 941.5h1m4 0h1m-5 1h4m-5 1h6m-5 1h2m1 0h1m-5 1h1m4 0h1M311.5 941v5M336 941.5h1m4 0h1m-5 1h4m-5 1h6m-5 1h2m1 0h1m-5 1h1m4 0h1M338.5 941v5M340 942.5h1m4 0h1m-5 1h4m-5 1h6m-5 1h2m1 0h1m-5 1h1m4 0h1M342.5 942v5M342 941.5h1m4 0h1m-5 1h4m-5 1h6m-5 1h2m1 0h1m-5 1h1m4 0h1M344.5 941v5M344 941.5h1m4 0h1m-5 1h4m-5 1h6m-5 1h2m1 0h1m-5 1h1m4 0h1M346.5 941v5M347 943.5h1m4 0h1m-5 1h4m-5 1h6m-5 1h2m1 0h1m-5 1h1m4 0h1M349.5 943v5M349 943.5h1m4 0h1m-5 1h4m-5 1h6m-5 1h2m1 0h1m-5 1h1m4 0h1M351.5 943v5M351 941.5h1m4 0h1m-5 1h4m-5 1h6m-5 1h2m1 0h1m-5 1h1m4 0h1M353.5 941v5M354 943.5h1m4 0h1m-5 1h4m-5 1h6m-5 1h2m1 0h1m-5 1h1m4 0h1M356.5 943v5M356 943.5h1m4 0h1m-5 1h4m-5 1h6m-5 1h2m1 0h1m-5 1h1m4 0h1M358.5 943v5M358 943.5h1m4 0h1m-5 1h4m-5 1h6m-5 1h2m1 0h1m-5 1h1m4 0h1M360.5 943v5M361 944.5h1m4 0h1m-5 1h4m-5 1h6m-5 1h2m1 0h1m-5 1h1m4 0h1M363.5 944v5M363 944.5h1m4 0h1m-5 1h4m-5 1h6m-5 1h2m1 0h1m-5 1h1m4 0h1M365.5 944v5M364 942.5h1m4 0h1m-5 1h4m-5 1h6m-5 1h2m1 0h1m-5 1h1m4 0h1M366.5 942v5M367 944.5h1m4 0h1m-5 1h4m-5 1h6m-5 1h2m1 0h1m-5 1h1m4 0h1M369.5 944v5M369 945.5h1m4 0h1m-5 1h4m-5 1h6m-5 1h2m1 0h1m-5 1h1m4 0h1M371.5 945v5M372 944.5h1m4 0h1m-5 1h4m-5 1h6m-5 1h2m1 0h1m-5 1h1m4 0h1M374.5 944v5M374 944.5h1m4 0h1m-5 1h4m-5 1h6m-5 1h2m1 0h1m-5 1h1m4 0h1M376.5 944v5M376 943.5h1m4 0h1m-5 1h4m-5 1h6m-5 1h2m1 0h1m-5 1h1m4 0h1M378.5 943v5M378 943.5h1m4 0h1m-5 1h4m-5 1h6m-5 1h2m1 0h1m-5 1h1m4 0h1M380.5 943v5M381 944.5h1m4 0h1m-5 1h4m-5 1h6m-5 1h2m1 0h1m-5 1h1m4 0h1M383.5 944v5M382 943.5h1m4 0h1m-5 1h4m-5 1h6m-5 1h2m1 0h1m-5 1h1m4 0h1M384.5 943v5M384 944.5h1m4 0h1m-5 1h4m-5 1h6m-5 1h2m1 0h1m-5 1h1m4 0h1M386.5 944v5M387 943.5h1m4 0h1m-5 1h4m-5 1h6m-5 1h2m1 0h1m-5 1h1m4 0h1M389.5 943v5M389 944.5h1m4 0h1m-5 1h4m-5 1h6m-5 1h2m1 0h1m-5 1h1m4 0h1M391.5 944v5M391 944.5h1m4 0h1m-5 1h4m-5 1h6m-5 1h2m1 0h1m-5 1h1m4 0h1M393.5 944v5M393 944.5h1m4 0h1m-5 1h4m-5 1h6m-5 1h2m1 0h1m-5 1h1m4 0h1M395.5 944v5M395 943.5h1m4 0h1m-5 1h4m-5 1h6m-5 1h2m1 0h1m-5 1h1m4 0h1M397.5 943v5M398 945.5h1m4 0h1m-5 1h4m-5 1h6m-5 1h2m1 0h1m-5 1h1m4 0h1M400.5 945v5M400 945.5h1m4 0h1m-5 1h4m-5 1h6m-5 1h2m1 0h1m-5 1h1m4 0h1M402.5 945v5M403 943.5h1m4 0h1m-5 1h4m-5 1h6m-5 1h2m1 0h1m-5 1h1m4 0h1M405.5 943v5M405 945.5h1m4 0h1m-5 1h4m-5 1h6m-5 1h2m1 0h1m-5 1h1m4 0h1M407.5 945v5M407 943.5h1m4 0h1m-5 1h4m-5 1h6m-5 1h2m1 0h1m-5 1h1m4 0h1M409.5 943v5M409 944.5h1m4 0h1m-5 1h4m-5 1h6m-5 1h2m1 0h1m-5 1h1m4 0h1M411.5 944v5M412 944.5h1m4 0h1m-5 1h4m-5 1h6m-5 1h2m1 0h1m-5 1h1m4 0h1M414.5 944v5M414 944.5h1m4 0h1m-5 1h4m-5 1h6m-5 1h2m1 0h1m-5 1h1m4 0h1M416.5 944v5M417 943.5h1m4 0h1m-5 1h4m-5 1h6m-5 1h2m1 0h1m-5 1h1m4 0h1M419.5 943v5M418 944.5h1m4 0h1m-5 1h4m-5 1h6m-5 1h2m1 0h1m-5 1h1m4 0h1M420.5 944v5M421 944.5h1m4 0h1m-5 1h4m-5 1h6m-5 1h2m1 0h1m-5 1h1m4 0h1M423.5 944v5M423 945.5h1m4 0h1m-5 1h4m-5 1h6m-5 1h2m1 0h1m-5 1h1m4 0h1M425.5 945v5M426 944.5h1m4 0h1m-5 1h4m-5 1h6m-5 1h2m1 0h1m-5 1h1m4 0h1M428.5 944v5M428 945.5h1m4 0h1m-5 1h4m-5 1h6m-5 1h2m1 0h1m-5 1h1m4 0h1M430.5 945v5M430 945.5h1m4 0h1m-5 1h4m-5 1h6m-5 1h2m1 0h1m-5 1h1m4 0h1M432.5 945v5M433 943.5h1m4 0h1m-5 1h4m-5 1h6m-5 1h2m1 0h1m-5 1h1m4 0h1M435.5 943v5M436 943.5h1m4 0h1m-5 1h4m-5 1h6m-5 1h2m1 0h1m-5 1h1m4 0h1M438.5 943v5M439 943.5h1m4 0h1m-5 1h4m-5 1h6m-5 1h2m1 0h1m-5 1h1m4 0h1M441.5 943v5M441 942.5h1m4 0h1m-5 1h4m-5 1h6m-5 1h2m1 0h1m-5 1h1m4 0h1M443.5 942v5M444 943.5h1m4 0h1m-5 1h4m-5 1h6m-5 1h2m1 0h1m-5 1h1m4 0h1M446.5 943v5M447 941.5h1m4 0h1m-5 1h4m-5 1h6m-5 1h2m1 0h1m-5 1h1m4 0h1M449.5 941v5M449 941.5h1m4 0h1m-5 1h4m-5 1h6m-5 1h2m1 0h1m-5 1h1m4 0h1M451.5 941v5M452 940.5h1m4 0h1m-5 1h4m-5 1h6m-5 1h2m1 0h1m-5 1h1m4 0h1M454.5 940v5M454 940.5h1m4 0h1m-5 1h4m-5 1h6m-5 1h2m1 0h1m-5 1h1m4 0h1M456.5 940v5M456 942.5h1m4 0h1m-5 1h4m-5 1h6m-5 1h2m1 0h1m-5 1h1m4 0h1M458.5 942v5M459 942.5h1m4 0h1m-5 1h4m-5 1h6m-5 1h2m1 0h1m-5 1h1m4 0h1M461.5 942v5M461 943.5h1m4 0h1m-5 1h4m-5 1h6m-5 1h2m1 0h1m-5 1h1m4 0h1M463.5 943v5M463 942.5h1m4 0h1m-5 1h4m-5 1h6m-5 1h2m1 0h1m-5 1h1m4 0h1M465.5 942v5M465 944.5h1m4 0h1m-5 1h4m-5 1h6m-5 1h2m1 0h1m-5 1h1m4 0h1M467.5 944v5M467 943.5h1m4 0h1m-5 1h4m-5 1h6m-5 1h2m1 0h1m-5 1h1m4 0h1M469.5 943v5M469 943.5h1m4 0h1m-5 1h4m-5 1h6m-5 1h2m1 0h1m-5 1h1m4 0h1M471.5 943v5M472 942.5h1m4 0h1m-5 1h4m-5 1h6m-5 1h2m1 0h1m-5 1h1m4 0h1M474.5 942v5M474 942.5h1m4 0h1m-5 1h4m-5 1h6m-5 1h2m1 0h1m-5 1h1m4 0h1M476.5 942v5M476 944.5h1m4 0h1m-5 1h4m-5 1h6m-5 1h2m1 0h1m-5 1h1m4 0h1M478.5 944v5M478 944.5h1m4 0h1m-5 1h4m-5 1h6m-5 1h2m1 0h1m-5 1h1m4 0h1M480.5 944v5M481 942.5h1m4 0h1m-5 1h4m-5 1h6m-5 1h2m1 0h1m-5 1h1m4 0h1M483.5 942v5M484 944.5h1m4 0h1m-5 1h4m-5 1h6m-5 1h2m1 0h1m-5 1h1m4 0h1M486.5 944v5M486 942.5h1m4 0h1m-5 1h4m-5 1h6m-5 1h2m1 0h1m-5 1h1m4 0h1M488.5 942v5M488 942.5h1m4 0h1m-5 1h4m-5 1h6m-5 1h2m1 0h1m-5 1h1m4 0h1M490.5 942v5M491 942.5h1m4 0h1m-5 1h4m-5 1h6m-5 1h2m1 0h1m-5 1h1m4 0h1M493.5 942v5M492 944.5h1m4 0h1m-5 1h4m-5 1h6m-5 1h2m1 0h1m-5 1h1m4 0h1M494.5 944v5M494 942.5h1m4 0h1m-5 1h4m-5 1h6m-5 1h2m1 0h1m-5 1h1m4 0h1M496.5 942v5M497 943.5h1m4 0h1m-5 1h4m-5 1h6m-5 1h2m1 0h1m-5 1h1m4 0h1M499.5 943v5M499 941.5h1m4 0h1m-5 1h4m-5 1h6m-5 1h2m1 0h1m-5 1h1m4 0h1M501.5 941v5M501 943.5h1m4 0h1m-5 1h4m-5 1h6m-5 1h2m1 0h1m-5 1h1m4 0h1M503.5 943v5M136 854.5h1m4 0h1m-5 1h4m-5 1h6m-5 1h2m1 0h1m-5 1h1m4 0h1M138.5 854v5M138 856.5h1m4 0h1m-5 1h4m-5 1h6m-5 1h2m1 0h1m-5 1h1m4 0h1M140.5 856v5M138 858.5h1m4 0h1m-5 1h4m-5 1h6m-5 1h2m1 0h1m-5 1h1m4 0h1M140.5 858v5M137 861.5h1m4 0h1m-5 1h4m-5 1h6m-5 1h2m1 0h1m-5 1h1m4 0h1M139.5 861v5M137 863.5h1m4 0h1m-5 1h4m-5 1h6m-5 1h2m1 0h1m-5 1h1m4 0h1M139.5 863v5M139 865.5h1m4 0h1m-5 1h4m-5 1h6m-5 1h2m1 0h1m-5 1h1m4 0h1M141.5 865v5M138 867.5h1m4 0h1m-5 1h4m-5 1h6m-5 1h2m1 0h1m-5 1h1m4 0h1M140.5 867v5M137 869.5h1m4 0h1m-5 1h4m-5 1h6m-5 1h2m1 0h1m-5 1h1m4 0h1M139.5 869v5M139 872.5h1m4 0h1m-5 1h4m-5 1h6m-5 1h2m1 0h1m-5 1h1m4 0h1M141.5 872v5M138 874.5h1m4 0h1m-5 1h4m-5 1h6m-5 1h2m1 0h1m-5 1h1m4 0h1M140.5 874v5M138 876.5h1m4 0h1m-5 1h4m-5 1h6m-5 1h2m1 0h1m-5 1h1m4 0h1M140.5 876v5M137 878.5h1m4 0h1m-5 1h4m-5 1h6m-5 1h2m1 0h1m-5 1h1m4 0h1M139.5 878v5M139 880.5h1m4 0h1m-5 1h4m-5 1h6m-5 1h2m1 0h1m-5 1h1m4 0h1M141.5 880v5M140 882.5h1m4 0h1m-5 1h4m-5 1h6m-5 1h2m1 0h1m-5 1h1m4 0h1M142.5 882v5M139 884.5h1m4 0h1m-5 1h4m-5 1h6m-5 1h2m1 0h1m-5 1h1m4 0h1M141.5 884v5M140 887.5h1m4 0h1m-5 1h4m-5 1h6m-5 1h2m1 0h1m-5 1h1m4 0h1M142.5 887v5M137 889.5h1m4 0h1m-5 1h4m-5 1h6m-5 1h2m1 0h1m-5 1h1m4 0h1M139.5 889v5M138 891.5h1m4 0h1m-5 1h4m-5 1h6m-5 1h2m1 0h1m-5 1h1m4 0h1M140.5 891v5M139 893.5h1m4 0h1m-5 1h4m-5 1h6m-5 1h2m1 0h1m-5 1h1m4 0h1M141.5 893v5M141 895.5h1m4 0h1m-5 1h4m-5 1h6m-5 1h2m1 0h1m-5 1h1m4 0h1M143.5 895v5M141 897.5h1m4 0h1m-5 1h4m-5 1h6m-5 1h2m1 0h1m-5 1h1m4 0h1M143.5 897v5M139 900.5h1m4 0h1m-5 1h4m-5 1h6m-5 1h2m1 0h1m-5 1h1m4 0h1M141.5 900v5M139 902.5h1m4 0h1m-5 1h4m-5 1h6m-5 1h2m1 0h1m-5 1h1m4 0h1M141.5 902v5M140 904.5h1m4 0h1m-5 1h4m-5 1h6m-5 1h2m1 0h1m-5 1h1m4 0h1M142.5 904v5M140 906.5h1m4 0h1m-5 1h4m-5 1h6m-5 1h2m1 0h1m-5 1h1m4 0h1M142.5 906v5M141 908.5h1m4 0h1m-5 1h4m-5 1h6m-5 1h2m1 0h1m-5 1h1m4 0h1M143.5 908v5M139 910.5h1m4 0h1m-5 1h4m-5 1h6m-5 1h2m1 0h1m-5 1h1m4 0h1M141.5 910v5M141 912.5h1m4 0h1m-5 1h4m-5 1h6m-5 1h2m1 0h1m-5 1h1m4 0h1M143.5 912v5M141 914.5h1m4 0h1m-5 1h4m-5 1h6m-5 1h2m1 0h1m-5 1h1m4 0h1M143.5 914v5M142 916.5h1m4 0h1m-5 1h4m-5 1h6m-5 1h2m1 0h1m-5 1h1m4 0h1M144.5 916v5M142 918.5h1m4 0h1m-5 1h4m-5 1h6m-5 1h2m1 0h1m-5 1h1m4 0h1M144.5 918v5M141 920.5h1m4 0h1m-5 1h4m-5 1h6m-5 1h2m1 0h1m-5 1h1m4 0h1M143.5 920v5M141 922.5h1m4 0h1m-5 1h4m-5 1h6m-5 1h2m1 0h1m-5 1h1m4 0h1M143.5 922v5M141 924.5h1m4 0h1m-5 1h4m-5 1h6m-5 1h2m1 0h1m-5 1h1m4 0h1M143.5 924v5M141 926.5h1m4 0h1m-5 1h4m-5 1h6m-5 1h2m1 0h1m-5 1h1m4 0h1M143.5 926v5M143 928.5h1m4 0h1m-5 1h4m-5 1h6m-5 1h2m1 0h1m-5 1h1m4 0h1M145.5 928v5M141 930.5h1m4 0h1m-5 1h4m-5 1h6m-5 1h2m1 0h1m-5 1h1m4 0h1M143.5 930v5M141 932.5h1m4 0h1m-5 1h4m-5 1h6m-5 1h2m1 0h1m-5 1h1m4 0h1M143.5 932v5M143 935.5h1m4 0h1m-5 1h4m-5 1h6m-5 1h2m1 0h1m-5 1h1m4 0h1M145.5 935v5M142 937.5h1m4 0h1m-5 1h4m-5 1h6m-5 1h2m1 0h1m-5 1h1m4 0h1M144.5 937v5M142 939.5h1m4 0h1m-5 1h4m-5 1h6m-5 1h2m1 0h1m-5 1h1m4 0h1M144.5 939v5M323 768.5h1m4 0h1m-5 1h4m-5 1h6m-5 1h2m1 0h1m-5 1h1m4 0h1M325.5 768v5M325 770.5h1m4 0h1m-5 1h4m-5 1h6m-5 1h2m1 0h1m-5 1h1m4 0h1M327.5 770v5M324 772.5h1m4 0h1m-5 1h4m-5 1h6m-5 1h2m1 0h1m-5 1h1m4 0h1M326.5 772v5M326 774.5h1m4 0h1m-5 1h4m-5 1h6m-5 1h2m1 0h1m-5 1h1m4 0h1M328.5 774v5M326 776.5h1m4 0h1m-5 1h4m-5 1h6m-5 1h2m1 0h1m-5 1h1m4 0h1M328.5 776v5M326 779.5h1m4 0h1m-5 1h4m-5 1h6m-5 1h2m1 0h1m-5 1h1m4 0h1M328.5 779v5M324 781.5h1m4 0h1m-5 1h4m-5 1h6m-5 1h2m1 0h1m-5 1h1m4 0h1M326.5 781v5M324 785.5h1m4 0h1m-5 1h4m-5 1h6m-5 1h2m1 0h1m-5 1h1m4 0h1M326.5 785v5M325 787.5h1m4 0h1m-5 1h4m-5 1h6m-5 1h2m1 0h1m-5 1h1m4 0h1M327.5 787v5M326 789.5h1m4 0h1m-5 1h4m-5 1h6m-5 1h2m1 0h1m-5 1h1m4 0h1M328.5 789v5M325 791.5h1m4 0h1m-5 1h4m-5 1h6m-5 1h2m1 0h1m-5 1h1m4 0h1M327.5 791v5M324 793.5h1m4 0h1m-5 1h4m-5 1h6m-5 1h2m1 0h1m-5 1h1m4 0h1M326.5 793v5M325 795.5h1m4 0h1m-5 1h4m-5 1h6m-5 1h2m1 0h1m-5 1h1m4 0h1M327.5 795v5M326 797.5h1m4 0h1m-5 1h4m-5 1h6m-5 1h2m1 0h1m-5 1h1m4 0h1M328.5 797v5M326 800.5h1m4 0h1m-5 1h4m-5 1h6m-5 1h2m1 0h1m-5 1h1m4 0h1M328.5 800v5M326 802.5h1m4 0h1m-5 1h4m-5 1h6m-5 1h2m1 0h1m-5 1h1m4 0h1M328.5 802v5M327 804.5h1m4 0h1m-5 1h4m-5 1h6m-5 1h2m1 0h1m-5 1h1m4 0h1M329.5 804v5M326 806.5h1m4 0h1m-5 1h4m-5 1h6m-5 1h2m1 0h1m-5 1h1m4 0h1M328.5 806v5M325 808.5h1m4 0h1m-5 1h4m-5 1h6m-5 1h2m1 0h1m-5 1h1m4 0h1M327.5 808v5M327 810.5h1m4 0h1m-5 1h4m-5 1h6m-5 1h2m1 0h1m-5 1h1m4 0h1M329.5 810v5M325 812.5h1m4 0h1m-5 1h4m-5 1h6m-5 1h2m1 0h1m-5 1h1m4 0h1M327.5 812v5M326 814.5h1m4 0h1m-5 1h4m-5 1h6m-5 1h2m1 0h1m-5 1h1m4 0h1M328.5 814v5M326 816.5h1m4 0h1m-5 1h4m-5 1h6m-5 1h2m1 0h1m-5 1h1m4 0h1M328.5 816v5M327 818.5h1m4 0h1m-5 1h4m-5 1h6m-5 1h2m1 0h1m-5 1h1m4 0h1M329.5 818v5M326 820.5h1m4 0h1m-5 1h4m-5 1h6m-5 1h2m1 0h1m-5 1h1m4 0h1M328.5 820v5M326 823.5h1m4 0h1m-5 1h4m-5 1h6m-5 1h2m1 0h1m-5 1h1m4 0h1M328.5 823v5M326 825.5h1m4 0h1m-5 1h4m-5 1h6m-5 1h2m1 0h1m-5 1h1m4 0h1M328.5 825v5M326 827.5h1m4 0h1m-5 1h4m-5 1h6m-5 1h2m1 0h1m-5 1h1m4 0h1M328.5 827v5M328 829.5h1m4 0h1m-5 1h4m-5 1h6m-5 1h2m1 0h1m-5 1h1m4 0h1M330.5 829v5M327 831.5h1m4 0h1m-5 1h4m-5 1h6m-5 1h2m1 0h1m-5 1h1m4 0h1M329.5 831v5M327 833.5h1m4 0h1m-5 1h4m-5 1h6m-5 1h2m1 0h1m-5 1h1m4 0h1M329.5 833v5M327 835.5h1m4 0h1m-5 1h4m-5 1h6m-5 1h2m1 0h1m-5 1h1m4 0h1M329.5 835v5M329 837.5h1m4 0h1m-5 1h4m-5 1h6m-5 1h2m1 0h1m-5 1h1m4 0h1M331.5 837v5M328 839.5h1m4 0h1m-5 1h4m-5 1h6m-5 1h2m1 0h1m-5 1h1m4 0h1M330.5 839v5M327 842.5h1m4 0h1m-5 1h4m-5 1h6m-5 1h2m1 0h1m-5 1h1m4 0h1M329.5 842v5M329 844.5h1m4 0h1m-5 1h4m-5 1h6m-5 1h2m1 0h1m-5 1h1m4 0h1M331.5 844v5M329 846.5h1m4 0h1m-5 1h4m-5 1h6m-5 1h2m1 0h1m-5 1h1m4 0h1M331.5 846v5M330 848.5h1m4 0h1m-5 1h4m-5 1h6m-5 1h2m1 0h1m-5 1h1m4 0h1M332.5 848v5M327 850.5h1m4 0h1m-5 1h4m-5 1h6m-5 1h2m1 0h1m-5 1h1m4 0h1M329.5 850v5M329 852.5h1m4 0h1m-5 1h4m-5 1h6m-5 1h2m1 0h1m-5 1h1m4 0h1M331.5 852v5M330 854.5h1m4 0h1m-5 1h4m-5 1h6m-5 1h2m1 0h1m-5 1h1m4 0h1M332.5 854v5M330 856.5h1m4 0h1m-5 1h4m-5 1h6m-5 1h2m1 0h1m-5 1h1m4 0h1M332.5 856v5M330 859.5h1m4 0h1m-5 1h4m-5 1h6m-5 1h2m1 0h1m-5 1h1m4 0h1M332.5 859v5M328 861.5h1m4 0h1m-5 1h4m-5 1h6m-5 1h2m1 0h1m-5 1h1m4 0h1M330.5 861v5M329 863.5h1m4 0h1m-5 1h4m-5 1h6m-5 1h2m1 0h1m-5 1h1m4 0h1M331.5 863v5M328 865.5h1m4 0h1m-5 1h4m-5 1h6m-5 1h2m1 0h1m-5 1h1m4 0h1M330.5 865v5M329 867.5h1m4 0h1m-5 1h4m-5 1h6m-5 1h2m1 0h1m-5 1h1m4 0h1M331.5 867v5M331 869.5h1m4 0h1m-5 1h4m-5 1h6m-5 1h2m1 0h1m-5 1h1m4 0h1M333.5 869v5M330 871.5h1m4 0h1m-5 1h4m-5 1h6m-5 1h2m1 0h1m-5 1h1m4 0h1M332.5 871v5M332 873.5h1m4 0h1m-5 1h4m-5 1h6m-5 1h2m1 0h1m-5 1h1m4 0h1M334.5 873v5M330 875.5h1m4 0h1m-5 1h4m-5 1h6m-5 1h2m1 0h1m-5 1h1m4 0h1M332.5 875v5M332 877.5h1m4 0h1m-5 1h4m-5 1h6m-5 1h2m1 0h1m-5 1h1m4 0h1M334.5 877v5M331 880.5h1m4 0h1m-5 1h4m-5 1h6m-5 1h2m1 0h1m-5 1h1m4 0h1M333.5 880v5M330 882.5h1m4 0h1m-5 1h4m-5 1h6m-5 1h2m1 0h1m-5 1h1m4 0h1M332.5 882v5M332 884.5h1m4 0h1m-5 1h4m-5 1h6m-5 1h2m1 0h1m-5 1h1m4 0h1M334.5 884v5M333 886.5h1m4 0h1m-5 1h4m-5 1h6m-5 1h2m1 0h1m-5 1h1m4 0h1M335.5 886v5M331 888.5h1m4 0h1m-5 1h4m-5 1h6m-5 1h2m1 0h1m-5 1h1m4 0h1M333.5 888v5M332 890.5h1m4 0h1m-5 1h4m-5 1h6m-5 1h2m1 0h1m-5 1h1m4 0h1M334.5 890v5M333 892.5h1m4 0h1m-5 1h4m-5 1h6m-5 1h2m1 0h1m-5 1h1m4 0h1M335.5 892v5M332 894.5h1m4 0h1m-5 1h4m-5 1h6m-5 1h2m1 0h1m-5 1h1m4 0h1M334.5 894v5M332 896.5h1m4 0h1m-5 1h4m-5 1h6m-5 1h2m1 0h1m-5 1h1m4 0h1M334.5 896v5M332 898.5h1m4 0h1m-5 1h4m-5 1h6m-5 1h2m1 0h1m-5 1h1m4 0h1M334.5 898v5M332 900.5h1m4 0h1m-5 1h4m-5 1h6m-5 1h2m1 0h1m-5 1h1m4 0h1M334.5 900v5M333 903.5h1m4 0h1m-5 1h4m-5 1h6m-5 1h2m1 0h1m-5 1h1m4 0h1M335.5 903v5M334 905.5h1m4 0h1m-5 1h4m-5 1h6m-5 1h2m1 0h1m-5 1h1m4 0h1M336.5 905v5M335 907.5h1m4 0h1m-5 1h4m-5 1h6m-5 1h2m1 0h1m-5 1h1m4 0h1M337.5 907v5M334 909.5h1m4 0h1m-5 1h4m-5 1h6m-5 1h2m1 0h1m-5 1h1m4 0h1M336.5 909v5M333 911.5h1m4 0h1m-5 1h4m-5 1h6m-5 1h2m1 0h1m-5 1h1m4 0h1M335.5 911v5M335 913.5h1m4 0h1m-5 1h4m-5 1h6m-5 1h2m1 0h1m-5 1h1m4 0h1M337.5 913v5M336 915.5h1m4 0h1m-5 1h4m-5 1h6m-5 1h2m1 0h1m-5 1h1m4 0h1M338.5 915v5M335 917.5h1m4 0h1m-5 1h4m-5 1h6m-5 1h2m1 0h1m-5 1h1m4 0h1M337.5 917v5M335 919.5h1m4 0h1m-5 1h4m-5 1h6m-5 1h2m1 0h1m-5 1h1m4 0h1M337.5 919v5M335 922.5h1m4 0h1m-5 1h4m-5 1h6m-5 1h2m1 0h1m-5 1h1m4 0h1M337.5 922v5M338 924.5h1m4 0h1m-5 1h4m-5 1h6m-5 1h2m1 0h1m-5 1h1m4 0h1M340.5 924v5M337 926.5h1m4 0h1m-5 1h4m-5 1h6m-5 1h2m1 0h1m-5 1h1m4 0h1M339.5 926v5M336 928.5h1m4 0h1m-5 1h4m-5 1h6m-5 1h2m1 0h1m-5 1h1m4 0h1M338.5 928v5M337 930.5h1m4 0h1m-5 1h4m-5 1h6m-5 1h2m1 0h1m-5 1h1m4 0h1M339.5 930v5M338 932.5h1m4 0h1m-5 1h4m-5 1h6m-5 1h2m1 0h1m-5 1h1m4 0h1M340.5 932v5M339 935.5h1m4 0h1m-5 1h4m-5 1h6m-5 1h2m1 0h1m-5 1h1m4 0h1M341.5 935v5M340 937.5h1m4 0h1m-5 1h4m-5 1h6m-5 1h2m1 0h1m-5 1h1m4 0h1M342.5 937v5M339 939.5h1m4 0h1m-5 1h4m-5 1h6m-5 1h2m1 0h1m-5 1h1m4 0h1M341.5 939v5" stroke="#fff" stroke-width="1" fill="none" shape-rendering="crispEdges"/>
<path d="M114 834.3L114 923.5M115.0 923.5L118.5 905.0M118.5 905.0L122.0 885.0M122.0 885.0L125.0 860.0M125.0 860.0L126.0 820.0M126.0 820.0L127.5 790.0M127.5 790.0L129.0 771.5M131 591.0L131 955.0M132 578.8L132 640.0M136 574.0L136 962.0M138 585.0L138 657.0M142 587.0L142 938.3M149.7 936.0L150.5 922.0M150 922.0L150 885.4M184 939.0L184 902.5M183.5 902.5L184.0 860.0M184 860.0L184 852.0M188.5 849.4L189.5 917.5M220.0 913.1L220.2 943.8M260.3 941.6L260.5 855.6M300.6 838.4L301.5 926.2M303.0 926.0L306.0 835.0M306.0 835.0L307.0 800.0M308 593.0L308 919.4M310.6 602.7L315.0 700.0M315.0 700.0L317.0 760.0M317.0 760.0L318.5 835.0M318.5 835.0L319.0 915.5M319.0 915.5L325.5 935.0M325.5 935.0L326.8 916.8M457.5 936.3L458.0 949.0M468 601.4L468 964.6M490 657.0L490 578.0M496.0 588.0L498.0 596.0M498.0 596.0L499.5 606.0M499.5 606.0L500.5 617.0M500.5 617.0L501.5 630.0M501.5 630.0L502.5 646.0M502.5 646.0L503.6 674.4M503.6 674.4L504.4 700.0M504.4 700.0L504.6 760.0M504.6 760.0L505.0 830.0M505.0 830.0L505.5 919.0M508.6 830.0L508.7 919.0M525 578.3L525 959.0M543 571.0L543 953.4M585.0 892.0L585.5 925.3" stroke="#00ff28" stroke-width="2" fill="none" stroke-linecap="square"/>
<path d="M431 570.2L431 951.0M446.5 941.0L447.0 879.8" stroke="#00ff28" stroke-width="1.5" fill="none" stroke-linecap="square"/>
<path d="M80.5 852.5L90.0 850.0M90.0 850.0L98.0 846.3M98.0 846.3L106.0 841.0M106.0 841.0L112.5 834.3M112.5 834.3L113.5 834.3M113.5 923.5L115.0 923.5M142.0 938.3L149.7 936.0M150.5 885.4L155.0 881.7M157.0 925.6L181.9 939.4M181.9 939.4L183.5 939.0M184.0 852.0L185.5 850.0M185.5 850.0L188.5 849.4M189.5 917.5L190.6 917.5M190.6 917.5L220.0 913.1M220.2 943.8L260.3 941.6M260.5 855.6L269.7 852.8M269.7 852.8L280.6 849.7M280.6 849.7L290.0 845.8M290.0 845.8L296.2 841.9M296.2 841.9L300.6 838.4M301.5 926.2L303.0 926.0M326.8 916.8L332.0 924.6M333.5 577.3L333.5 953.2M333.0 604.0L354.0 618.2M354.0 618.2L354.5 646.8M354.5 646.8L355.4 654.6M355.4 654.6L356.0 657.5M356.0 657.5L430.0 657.5M431.0 951.0L446.5 941.0M447.0 879.8L451.0 878.0M458.0 949.0L465.4 944.4M469.0 642.0L477.0 650.7M477.0 650.7L478.0 650.0M478.0 650.0L488.6 657.5M488.6 657.5L489.8 657.0M489.8 578.0L491.0 578.0M491.0 578.0L493.5 582.0M493.5 582.0L496.0 588.0M512.0 854.0L517.0 851.0M519.0 911.0L523.0 915.0M525.0 588.4L537.0 595.0M536.5 603.0L543.0 596.0M544.0 914.0L550.0 911.0M550.0 911.0L560.0 905.7M560.0 905.7L570.0 900.3M570.0 900.3L585.0 892.0M585.5 925.3L592.6 924.5" stroke="#00ff28" stroke-width="1.15" fill="none" stroke-linecap="round"/>
<path d="M114 705.0L114 619.5M116.8 622.7L118.0 626.0M118.0 626.0L120.5 635.6M120.5 635.6L122.4 645.0M122.4 645.0L123.6 656.0M123.6 656.0L124.5 668.0M124.5 668.0L125.3 682.0M125.3 682.0L126.3 698.0M126.3 698.0L127.0 705.0M127.0 705.0L127.5 720.0M127.5 720.0L128.0 737.0M134 575.0L134 962.0M138.5 900.0L140.0 935.0M140.0 935.0L141.0 964.8M151 951.0L151 885.4M157 581.0L157 962.5M183 603.5L183 622.0M184 622.0L184 637.0M184.0 637.0L185.3 790.0M220.0 579.4L220.3 594.0M260.0 609.0L260.3 704.8M301.7 701.0L301.5 615.0M305.0 617.0L306.5 640.0M306.5 640.0L306.7 723.0M310 570.8L310 942.8M311.0 915.0L315.5 835.0M315.5 835.0L316.3 760.0M316.3 760.0L318.4 700.0M318.4 700.0L321.0 636.4M321.0 636.4L322.9 619.5M322.9 619.5L324.0 608.5M325.0 608.5L326.5 627.0M326.5 627.0L328.8 619.5M328.8 619.5L331.4 613.0M430 882.0L430 919.4M446.5 920.0L447.0 879.8M450.6 877.8L451.0 851.5M457 846.0L457 936.3M467 587.0L467 964.6M478 626.0L478 930.3M478.0 918.0L488.3 889.2M488.3 889.2L491.0 951.8M491.0 951.8L502.8 861.0M502.8 861.0L504.0 830.0M504.0 830.0L505.5 760.0M505.5 760.0L506.5 668.0M510.0 639.0L510.5 787.0M510.5 787.0L511.5 830.0M511.5 830.0L512.0 853.0M512.0 853.0L517.0 836.0M518 569.0L518 943.3M519.0 569.0L524.7 585.3M525 585.3L525 609.5M537 579.0L537 963.6M543.0 918.0L543.5 926.0M544 926.0L544 907.3M585.3 887.8L585.5 912.0" stroke="#00fff0" stroke-width="2" fill="none" stroke-linecap="square"/>
<path d="M130 640.5L130 737.0" stroke="#00fff0" stroke-width="1.5" fill="none" stroke-linecap="square"/>
<path d="M80.5 709.5L96.0 707.5M96.0 707.5L112.5 705.5M112.5 705.5L113.5 705.0M113.5 619.5L115.0 619.5M115.0 619.5L116.8 622.7M141.0 964.8L149.7 951.0M149.7 951.0L151.0 951.0M151.0 885.4L153.0 884.0M153.0 884.0L155.0 882.0M157.5 615.0L160.0 612.5M160.0 612.5L166.0 609.5M166.0 609.5L172.0 606.5M172.0 606.5L178.0 604.8M178.0 604.8L183.0 603.5M183.0 622.0L184.0 622.0M185.3 790.0L186.0 790.0M186.0 790.0L189.4 785.0M189.5 785.0L189.5 965.0M189.5 965.0L195.0 967.5M195.0 967.5L195.5 967.0M195.5 967.0L195.5 567.5M195.5 567.5L197.5 569.4M197.5 569.4L220.0 579.4M220.3 594.0L260.0 609.0M260.3 704.8L301.7 701.0M301.5 615.0L303.0 614.5M303.0 614.5L305.0 617.0M324.0 608.5L325.0 608.5M331.4 613.0L337.9 609.8M337.9 609.8L347.0 606.6M347.0 606.6L354.0 604.0M354.5 580.0L354.5 929.5M355.0 907.0L360.6 902.2M360.6 902.2L370.0 896.0M370.0 896.0L384.0 890.5M384.0 890.5L399.7 886.6M399.7 886.6L415.3 883.8M415.3 883.8L429.4 882.3M429.4 882.3L430.5 882.0M430.5 919.4L446.5 920.0M447.0 879.8L450.6 877.8M451.0 851.5L453.0 847.5M453.0 847.5L456.0 845.5M456.0 845.5L457.0 846.0M457.0 936.3L466.0 937.7M467.5 653.6L477.0 661.0M525.0 597.0L536.0 590.0M538.0 918.0L543.0 918.0M543.5 907.3L550.0 904.2M550.0 904.2L560.0 899.4M560.0 899.4L570.0 894.8M570.0 894.8L585.3 887.8M585.5 912.0L592.6 910.0" stroke="#00fff0" stroke-width="1.15" fill="none" stroke-linecap="round"/>
</g>
<path d="M80.5 567.5H592.5V967.5H80.5ZM92.5 967.5v-4M92.5 567.5v4M104.5 967.5v-4M104.5 567.5v4M116.5 967.5v-4M116.5 567.5v4M127.5 967.5v-4M127.5 567.5v4M139.5 967.5v-4M139.5 567.5v4M151.5 967.5v-4M151.5 567.5v4M163.5 967.5v-4M163.5 567.5v4M175.5 967.5v-4M175.5 567.5v4M187.5 967.5v-4M187.5 567.5v4M199.5 967.5v-4M199.5 567.5v4M210.5 967.5v-4M210.5 567.5v4M222.5 967.5v-8M222.5 567.5v8M234.5 967.5v-4M234.5 567.5v4M246.5 967.5v-4M246.5 567.5v4M258.5 967.5v-4M258.5 567.5v4M270.5 967.5v-4M270.5 567.5v4M281.5 967.5v-4M281.5 567.5v4M293.5 967.5v-4M293.5 567.5v4M305.5 967.5v-4M305.5 567.5v4M317.5 967.5v-4M317.5 567.5v4M329.5 967.5v-4M329.5 567.5v4M341.5 967.5v-4M341.5 567.5v4M353.5 967.5v-4M353.5 567.5v4M364.5 967.5v-8M364.5 567.5v8M376.5 967.5v-4M376.5 567.5v4M388.5 967.5v-4M388.5 567.5v4M400.5 967.5v-4M400.5 567.5v4M412.5 967.5v-4M412.5 567.5v4M424.5 967.5v-4M424.5 567.5v4M436.5 967.5v-4M436.5 567.5v4M447.5 967.5v-4M447.5 567.5v4M459.5 967.5v-4M459.5 567.5v4M471.5 967.5v-4M471.5 567.5v4M483.5 967.5v-4M483.5 567.5v4M495.5 967.5v-4M495.5 567.5v4M507.5 967.5v-8M507.5 567.5v8M519.5 967.5v-4M519.5 567.5v4M530.5 967.5v-4M530.5 567.5v4M542.5 967.5v-4M542.5 567.5v4M554.5 967.5v-4M554.5 567.5v4M566.5 967.5v-4M566.5 567.5v4M578.5 967.5v-4M578.5 567.5v4M590.5 967.5v-4M590.5 567.5v4M80.5 949.5h10.5M592.5 949.5h-10.5M80.5 931.5h5.5M592.5 931.5h-5.5M80.5 912.5h5.5M592.5 912.5h-5.5M80.5 894.5h5.5M592.5 894.5h-5.5M80.5 876.5h5.5M592.5 876.5h-5.5M80.5 858.5h10.5M592.5 858.5h-10.5M80.5 840.5h5.5M592.5 840.5h-5.5M80.5 822.5h5.5M592.5 822.5h-5.5M80.5 803.5h5.5M592.5 803.5h-5.5M80.5 785.5h5.5M592.5 785.5h-5.5M80.5 767.5h10.5M592.5 767.5h-10.5M80.5 749.5h5.5M592.5 749.5h-5.5M80.5 731.5h5.5M592.5 731.5h-5.5M80.5 712.5h5.5M592.5 712.5h-5.5M80.5 694.5h5.5M592.5 694.5h-5.5M80.5 676.5h10.5M592.5 676.5h-10.5M80.5 658.5h5.5M592.5 658.5h-5.5M80.5 640.5h5.5M592.5 640.5h-5.5M80.5 622.5h5.5M592.5 622.5h-5.5M80.5 603.5h5.5M592.5 603.5h-5.5M80.5 585.5h10.5M592.5 585.5h-10.5" stroke="#fff" stroke-width="1" fill="none" shape-rendering="crispEdges"/>
<text x="96.40" y="1030.00" font-size="14.5" fill="#fff" text-anchor="start" textLength="57.8" lengthAdjust="spacingAndGlyphs" >FP_temp</text>
<text x="287.60" y="1030.00" font-size="14.5" fill="#00ff28" text-anchor="start" textLength="74.0" lengthAdjust="spacingAndGlyphs" >Earth pitch</text>
<text x="383.80" y="1030.00" font-size="14.5" fill="#00fff0" text-anchor="start" textLength="61.7" lengthAdjust="spacingAndGlyphs" >Earth roll</text></svg></body></html>
